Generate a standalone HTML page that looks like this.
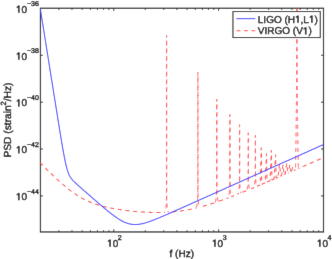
<!DOCTYPE html>
<html><head><meta charset="utf-8"><style>
html,body{margin:0;padding:0;background:#fff;}
body{width:332px;height:259px;overflow:hidden;}
svg{display:block;}
text{font-family:"Liberation Sans",sans-serif;fill:#000;stroke:#000;stroke-width:0.35px;text-rendering:geometricPrecision;}
.one{fill:#000;stroke:#000;stroke-width:102px;}
.t{font-size:10px;}
.e{font-size:7px;}
.h1{fill-opacity:0;stroke-opacity:0;}
</style></head><body>
<svg width="332" height="259" viewBox="0 0 332 259"><g filter="url(#bl)"><rect width="332" height="259" fill="#fff"/>
<defs><filter id="bl" x="0" y="0" width="100%" height="100%" filterUnits="userSpaceOnUse"><feConvolveMatrix order="3" kernelMatrix="0.00524 0.06192 0.00524 0.06192 0.73137 0.06192 0.00524 0.06192 0.00524" edgeMode="duplicate" preserveAlpha="false"/></filter><path id="g1" d="M515,0L515,1237L197,1010L197,1180L530,1409L696,1409L696,0Z"/><clipPath id="c"><rect x="39.9" y="7.7" width="284.2" height="224.8"/></clipPath></defs>
<path d="M58.87,231.95L58.87,230.25M58.87,8.25L58.87,9.95M71.98,231.95L71.98,230.25M71.98,8.25L71.98,9.95M82.14,231.95L82.14,230.25M82.14,8.25L82.14,9.95M90.45,231.95L90.45,230.25M90.45,8.25L90.45,9.95M97.47,231.95L97.47,230.25M97.47,8.25L97.47,9.95M103.55,231.95L103.55,230.25M103.55,8.25L103.55,9.95M108.92,231.95L108.92,230.25M108.92,8.25L108.92,9.95M113.72,231.95L113.72,229.25M113.72,8.25L113.72,10.95M145.29,231.95L145.29,230.25M145.29,8.25L145.29,9.95M163.76,231.95L163.76,230.25M163.76,8.25L163.76,9.95M176.87,231.95L176.87,230.25M176.87,8.25L176.87,9.95M187.03,231.95L187.03,230.25M187.03,8.25L187.03,9.95M195.34,231.95L195.34,230.25M195.34,8.25L195.34,9.95M202.36,231.95L202.36,230.25M202.36,8.25L202.36,9.95M208.44,231.95L208.44,230.25M208.44,8.25L208.44,9.95M213.81,231.95L213.81,230.25M213.81,8.25L213.81,9.95M218.61,231.95L218.61,229.25M218.61,8.25L218.61,10.95M250.18,231.95L250.18,230.25M250.18,8.25L250.18,9.95M268.65,231.95L268.65,230.25M268.65,8.25L268.65,9.95M281.76,231.95L281.76,230.25M281.76,8.25L281.76,9.95M291.92,231.95L291.92,230.25M291.92,8.25L291.92,9.95M300.23,231.95L300.23,230.25M300.23,8.25L300.23,9.95M307.25,231.95L307.25,230.25M307.25,8.25L307.25,9.95M313.33,231.95L313.33,230.25M313.33,8.25L313.33,9.95M318.70,231.95L318.70,230.25M318.70,8.25L318.70,9.95M40.40,55.28L42.90,55.28M323.50,55.28L321.00,55.28M40.40,102.15L42.90,102.15M323.50,102.15L321.00,102.15M40.40,149.03L42.90,149.03M323.50,149.03L321.00,149.03M40.40,195.91L42.90,195.91M323.50,195.91L321.00,195.91" stroke="#000" stroke-width="0.8" fill="none"/>
<rect x="40.45" y="8.25" width="283.05" height="223.7" fill="none" stroke="#1a1a1a" stroke-width="1.2"/>
<g clip-path="url(#c)">
<g fill="none" stroke="#ff4040" stroke-width="1.05" stroke-dasharray="4 3.75" stroke-linejoin="round"><path d="M40.40,163.10 L40.65,163.35 L40.90,163.60 L41.15,163.85 L41.40,164.10 L41.65,164.35 L41.90,164.60 L42.15,164.85 L42.40,165.10 L42.65,165.34 L42.90,165.59 L43.15,165.84 L43.40,166.09 L43.65,166.34 L43.90,166.58 L44.15,166.83 L44.40,167.08 L44.65,167.32 L44.90,167.57 L45.15,167.82 L45.40,168.06 L45.65,168.31 L45.90,168.55 L46.15,168.80 L46.40,169.04 L46.65,169.29 L46.90,169.53 L47.15,169.78 L47.40,170.02 L47.65,170.27 L47.90,170.51 L48.15,170.75 L48.40,170.99 L48.65,171.24 L48.90,171.48 L49.15,171.72 L49.40,171.96 L49.65,172.21 L49.90,172.45 L50.15,172.69 L50.40,172.93 L50.65,173.17 L50.90,173.41 L51.15,173.65 L51.40,173.89 L51.65,174.13 L51.90,174.36 L52.15,174.60 L52.40,174.84 L52.65,175.08 L52.90,175.31 L53.15,175.55 L53.40,175.79 L53.65,176.02 L53.90,176.26 L54.15,176.49 L54.40,176.73 L54.65,176.96 L54.90,177.20 L55.15,177.43 L55.40,177.66 L55.65,177.89 L55.90,178.13 L56.15,178.36 L56.40,178.59 L56.65,178.82 L56.90,179.05 L57.15,179.28 L57.40,179.51 L57.65,179.74 L57.90,179.96 L58.15,180.19 L58.40,180.42 L58.65,180.64 L58.90,180.87 L59.15,181.10 L59.40,181.32 L59.65,181.54 L59.90,181.77 L60.15,181.99 L60.40,182.21 L60.65,182.43 L60.90,182.65 L61.15,182.88 L61.40,183.09 L61.65,183.31 L61.90,183.53 L62.15,183.75 L62.40,183.97 L62.65,184.18 L62.90,184.40 L63.15,184.61 L63.40,184.83 L63.65,185.04 L63.90,185.25 L64.15,185.47 L64.40,185.68 L64.65,185.89 L64.90,186.10 L65.15,186.31 L65.40,186.51 L65.65,186.72 L65.90,186.93 L66.15,187.13 L66.40,187.34 L66.65,187.54 L66.90,187.75 L67.15,187.95 L67.40,188.15 L67.65,188.35 L67.90,188.55 L68.15,188.75 L68.40,188.95 L68.65,189.14 L68.90,189.34 L69.15,189.54 L69.40,189.73 L69.65,189.92 L69.90,190.12 L70.15,190.31 L70.40,190.50 L70.65,190.69 L70.90,190.88 L71.15,191.06 L71.40,191.25 L71.65,191.43 L71.90,191.62 L72.15,191.80 L72.40,191.99 L72.65,192.17 L72.90,192.35 L73.15,192.53 L73.40,192.70 L73.65,192.88 L73.90,193.06 L74.15,193.23 L74.40,193.41 L74.65,193.58 L74.90,193.75 L75.15,193.92 L75.40,194.09 L75.65,194.26 L75.90,194.43 L76.15,194.59 L76.40,194.76 L76.65,194.92 L76.90,195.09 L77.15,195.25 L77.40,195.41 L77.65,195.57 L77.90,195.73 L78.15,195.88 L78.40,196.04 L78.65,196.20 L78.90,196.35 L79.15,196.50 L79.40,196.65 L79.65,196.80 L79.90,196.95 L80.15,197.10 L80.40,197.25 L80.65,197.39 L80.90,197.54 L81.15,197.68 L81.40,197.82 L81.65,197.97 L81.90,198.11 L82.15,198.25 L82.40,198.38 L82.65,198.52 L82.90,198.66 L83.15,198.79 L83.40,198.92 L83.65,199.05 L83.90,199.19 L84.15,199.32 L84.40,199.44 L84.65,199.57 L84.90,199.70 L85.15,199.82 L85.40,199.95 L85.65,200.07 L85.90,200.19 L86.15,200.31 L86.40,200.43 L86.65,200.55 L86.90,200.67 L87.15,200.79 L87.40,200.90 L87.65,201.02 L87.90,201.13 L88.15,201.24 L88.40,201.35 L88.65,201.46 L88.90,201.57 L89.15,201.68 L89.40,201.79 L89.65,201.89 L89.90,202.00 L90.15,202.10 L90.40,202.21 L90.65,202.31 L90.90,202.41 L91.15,202.51 L91.40,202.61 L91.65,202.71 L91.90,202.80 L92.15,202.90 L92.40,203.00 L92.65,203.09 L92.90,203.18 L93.15,203.28 L93.40,203.37 L93.65,203.46 L93.90,203.55 L94.15,203.64 L94.40,203.73 L94.65,203.82 L94.90,203.90 L95.15,203.99 L95.40,204.07 L95.65,204.16 L95.90,204.24 L96.15,204.32 L96.40,204.40 L96.65,204.49 L96.90,204.57 L97.15,204.64 L97.40,204.72 L97.65,204.80 L97.90,204.88 L98.15,204.95 L98.40,205.03 L98.65,205.11 L98.90,205.18 L99.15,205.25 L99.40,205.33 L99.65,205.40 L99.90,205.47 L100.15,205.54 L100.40,205.61 L100.65,205.68 L100.90,205.75 L101.15,205.82 L101.40,205.88 L101.65,205.95 L101.90,206.02 L102.15,206.08 L102.40,206.15 L102.65,206.21 L102.90,206.28 L103.15,206.34 L103.40,206.40 L103.65,206.47 L103.90,206.53 L104.15,206.59 L104.40,206.65 L104.65,206.71 L104.90,206.77 L105.15,206.83 L105.40,206.89 L105.65,206.94 L105.90,207.00 L106.15,207.06 L106.40,207.12 L106.65,207.17 L106.90,207.23 L107.15,207.28 L107.40,207.34 L107.65,207.39 L107.90,207.44 L108.15,207.50 L108.40,207.55 L108.65,207.60 L108.90,207.66 L109.15,207.71 L109.40,207.76 L109.65,207.81 L109.90,207.86 L110.15,207.91 L110.40,207.96 L110.65,208.01 L110.90,208.06 L111.15,208.10 L111.40,208.15 L111.65,208.20 L111.90,208.25 L112.15,208.29 L112.40,208.34 L112.65,208.39 L112.90,208.43 L113.15,208.48 L113.40,208.52 L113.65,208.57 L113.90,208.61 L114.15,208.66 L114.40,208.70 L114.65,208.74 L114.90,208.79 L115.15,208.83 L115.40,208.87 L115.65,208.91 L115.90,208.95 L116.15,209.00 L116.40,209.04 L116.65,209.08 L116.90,209.12 L117.15,209.16 L117.40,209.20 L117.65,209.24 L117.90,209.28 L118.15,209.32 L118.40,209.36 L118.65,209.39 L118.90,209.43 L119.15,209.47 L119.40,209.51 L119.65,209.55 L119.90,209.58 L120.15,209.62 L120.40,209.66 L120.65,209.69 L120.90,209.73 L121.15,209.76 L121.40,209.80 L121.65,209.84 L121.90,209.87 L122.15,209.91 L122.40,209.94 L122.65,209.97 L122.90,210.01 L123.15,210.04 L123.40,210.08 L123.65,210.11 L123.90,210.14 L124.15,210.18 L124.40,210.21 L124.65,210.24 L124.90,210.27 L125.15,210.31 L125.40,210.34 L125.65,210.37 L125.90,210.40 L126.15,210.43 L126.40,210.46 L126.65,210.49 L126.90,210.52 L127.15,210.55 L127.40,210.58 L127.65,210.61 L127.90,210.64 L128.15,210.67 L128.40,210.70 L128.65,210.73 L128.90,210.76 L129.15,210.79 L129.40,210.81 L129.65,210.84 L129.90,210.87 L130.15,210.90 L130.40,210.92 L130.65,210.95 L130.90,210.98 L131.15,211.00 L131.40,211.03 L131.65,211.06 L131.90,211.08 L132.15,211.11 L132.40,211.13 L132.65,211.16 L132.90,211.18 L133.15,211.21 L133.40,211.23 L133.65,211.26 L133.90,211.28 L134.15,211.31 L134.40,211.33 L134.65,211.35 L134.90,211.38 L135.15,211.40 L135.40,211.42 L135.65,211.45 L135.90,211.47 L136.15,211.49 L136.40,211.51 L136.65,211.54 L136.90,211.56 L137.15,211.58 L137.40,211.60 L137.65,211.62 L137.90,211.64 L138.15,211.66 L138.40,211.68 L138.65,211.70 L138.90,211.72 L139.15,211.74 L139.40,211.76 L139.65,211.78 L139.90,211.80 L140.15,211.82 L140.40,211.84 L140.65,211.85 L140.90,211.87 L141.15,211.89 L141.40,211.91 L141.65,211.92 L141.90,211.94 L142.15,211.96 L142.40,211.97 L142.65,211.99 L142.90,212.01 L143.15,212.02 L143.40,212.04 L143.65,212.05 L143.90,212.07 L144.15,212.08 L144.40,212.10 L144.65,212.11 L144.90,212.13 L145.15,212.14 L145.40,212.15 L145.65,212.17 L145.90,212.18 L146.15,212.19 L146.40,212.21 L146.65,212.22 L146.90,212.23 L147.15,212.24 L147.40,212.26 L147.65,212.27 L147.90,212.28 L148.15,212.29 L148.40,212.30 L148.65,212.31 L148.90,212.32 L149.15,212.33 L149.40,212.34 L149.65,212.35 L149.90,212.36 L150.15,212.37 L150.40,212.37 L150.65,212.38 L150.90,212.39 L151.15,212.40 L151.40,212.41 L151.65,212.41 L151.90,212.42 L152.15,212.43 L152.40,212.43 L152.65,212.44 L152.90,212.44 L153.15,212.45 L153.40,212.45 L153.65,212.46 L153.90,212.46 L154.15,212.47 L154.40,212.47 L154.65,212.48 L154.90,212.48 L155.15,212.48 L155.40,212.48 L155.65,212.49 L155.90,212.49 L156.15,212.49 L156.40,212.49 L156.65,212.49 L156.90,212.49 L157.15,212.50 L157.40,212.50 L157.65,212.50 L157.90,212.50 L158.15,212.49 L158.40,212.49 L158.65,212.49 L158.90,212.49 L159.15,212.49 L159.40,212.49 L159.65,212.48 L159.90,212.48 L160.15,212.48 L160.40,212.47 L160.65,212.47 L160.90,212.47 L161.15,212.46 L161.40,212.46 L161.65,212.45 L161.90,212.45 L162.15,212.44 L162.40,212.43 L162.65,212.43 L162.90,212.42 L163.15,212.41 L163.40,212.41 L163.65,212.40 L163.90,212.39 L164.15,212.38 L164.40,212.37 L164.65,212.36 L164.80,212.36" stroke-dashoffset="0.71"/><path d="M168.40,212.18 L168.65,212.16 L168.90,212.15 L169.15,212.13 L169.40,212.11 L169.65,212.10 L169.90,212.08 L170.15,212.06 L170.40,212.05 L170.65,212.03 L170.90,212.01 L171.15,211.99 L171.40,211.97 L171.65,211.95 L171.90,211.93 L172.15,211.91 L172.40,211.89 L172.65,211.87 L172.90,211.84 L173.15,211.82 L173.40,211.80 L173.65,211.78 L173.90,211.75 L174.15,211.73 L174.40,211.71 L174.65,211.68 L174.90,211.66 L175.15,211.63 L175.40,211.60 L175.65,211.58 L175.90,211.55 L176.15,211.52 L176.40,211.50 L176.65,211.47 L176.90,211.44 L177.15,211.41 L177.40,211.38 L177.65,211.35 L177.90,211.32 L178.15,211.29 L178.40,211.26 L178.65,211.23 L178.90,211.20 L179.15,211.17 L179.40,211.14 L179.65,211.10 L179.90,211.07 L180.15,211.04 L180.40,211.00 L180.65,210.97 L180.90,210.93 L181.15,210.90 L181.40,210.86 L181.65,210.83 L181.90,210.79 L182.15,210.75 L182.40,210.72 L182.65,210.68 L182.90,210.64 L183.15,210.60 L183.40,210.56 L183.65,210.52 L183.90,210.48 L184.15,210.44 L184.40,210.40 L184.65,210.36 L184.90,210.32 L185.15,210.28 L185.40,210.24 L185.65,210.19 L185.90,210.15 L186.15,210.11 L186.40,210.06 L186.65,210.02 L186.90,209.97 L187.15,209.93 L187.40,209.88 L187.65,209.84 L187.90,209.79 L188.15,209.74 L188.40,209.70 L188.65,209.65 L188.90,209.60 L189.15,209.55 L189.40,209.50 L189.65,209.45 L189.90,209.41 L190.15,209.36 L190.40,209.30 L190.65,209.25 L190.90,209.20 L191.15,209.15 L191.40,209.10 L191.65,209.05 L191.90,208.99 L192.15,208.94 L192.40,208.89 L192.65,208.83 L192.90,208.78 L193.15,208.72 L193.40,208.67 L193.65,208.61 L193.90,208.56 L194.15,208.50 L194.40,208.44 L194.65,208.39 L194.90,208.33 L195.15,208.27 L195.40,208.21 L195.65,208.15 L195.90,208.09 L196.15,208.04 L196.30,208.00" stroke-dashoffset="3.74"/><path d="M199.50,207.20 L199.75,207.14 L200.00,207.07 L200.25,207.01 L200.50,206.94 L200.75,206.88 L201.00,206.81 L201.25,206.74 L201.50,206.68 L201.75,206.61 L202.00,206.54 L202.25,206.47 L202.50,206.40 L202.75,206.33 L203.00,206.26 L203.25,206.20 L203.50,206.13 L203.75,206.06 L204.00,205.98 L204.25,205.91 L204.50,205.84 L204.75,205.77 L205.00,205.70 L205.25,205.63 L205.50,205.55 L205.75,205.48 L206.00,205.41 L206.25,205.33 L206.50,205.26 L206.75,205.19 L207.00,205.11 L207.25,205.04 L207.50,204.96 L207.75,204.89 L208.00,204.81 L208.25,204.74 L208.50,204.66 L208.75,204.58 L209.00,204.51 L209.25,204.43 L209.50,204.35 L209.75,204.27 L210.00,204.20 L210.25,204.12 L210.50,204.04 L210.75,203.96 L211.00,203.88 L211.25,203.80 L211.50,203.72 L211.75,203.64 L212.00,203.56 L212.25,203.48 L212.50,203.40 L212.75,203.32 L213.00,203.24 L213.25,203.16 L213.50,203.08 L213.75,202.99 L214.00,202.91 L214.25,202.83 L214.50,202.75 L214.75,202.66 L215.00,202.58 L215.25,202.50 L215.30,202.48" stroke-dashoffset="4.23"/><path d="M218.30,201.46 L218.55,201.37 L218.80,201.28 L219.05,201.20 L219.30,201.11 L219.55,201.02 L219.80,200.94 L220.05,200.85 L220.30,200.76 L220.55,200.67 L220.80,200.58 L221.05,200.49 L221.30,200.40 L221.55,200.32 L221.80,200.23 L222.05,200.14 L222.30,200.05 L222.55,199.96 L222.80,199.87 L223.05,199.78 L223.30,199.69 L223.55,199.60 L223.80,199.50 L224.05,199.41 L224.30,199.32 L224.55,199.23 L224.80,199.14 L225.05,199.05 L225.30,198.95 L225.55,198.86 L225.80,198.77 L226.05,198.68 L226.30,198.59 L226.55,198.49 L226.80,198.40 L227.05,198.31 L227.30,198.21 L227.55,198.12 L227.80,198.03 L228.05,197.93 L228.30,197.84 L228.50,197.76" stroke-dashoffset="6.80"/><path d="M231.30,196.70 L231.55,196.60 L231.80,196.51 L232.05,196.41 L232.30,196.31 L232.55,196.22 L232.80,196.12 L233.05,196.02 L233.30,195.93 L233.55,195.83 L233.80,195.73 L234.05,195.63 L234.30,195.54 L234.55,195.44 L234.80,195.34 L235.05,195.24 L235.30,195.15 L235.55,195.05 L235.80,194.95 L236.05,194.85 L236.30,194.75 L236.55,194.65 L236.80,194.56 L237.05,194.46 L237.30,194.36 L237.55,194.26 L237.80,194.16 L238.05,194.06 L238.30,193.96" stroke-dashoffset="1.09"/><path d="M240.90,192.92 L241.15,192.82 L241.40,192.72 L241.65,192.62 L241.90,192.52 L242.15,192.42 L242.40,192.32 L242.65,192.22 L242.90,192.12 L243.15,192.01 L243.40,191.91 L243.65,191.81 L243.90,191.71 L244.15,191.61 L244.40,191.51 L244.65,191.40 L244.90,191.30 L245.15,191.20 L245.40,191.10 L245.65,191.00 L245.90,190.89 L246.15,190.79 L246.40,190.69 L246.65,190.59 L246.90,190.49 L247.00,190.44" stroke-dashoffset="6.13"/><path d="M249.60,189.37 L249.85,189.27 L250.10,189.17 L250.35,189.06 L250.60,188.96 L250.85,188.86 L251.10,188.75 L251.35,188.65 L251.60,188.55 L251.85,188.44 L252.10,188.34 L252.35,188.23 L252.60,188.13 L252.85,188.03 L253.10,187.92 L253.35,187.82 L253.60,187.71 L253.85,187.61 L254.10,187.50" stroke-dashoffset="6.13"/><path d="M256.70,186.42 L256.95,186.31 L257.20,186.21 L257.45,186.10 L257.70,186.00 L257.95,185.89 L258.20,185.78 L258.45,185.68 L258.70,185.57 L258.95,185.47 L259.20,185.36 L259.45,185.26 L259.70,185.15 L259.95,185.05 L260.10,184.98" stroke-dashoffset="7.42"/><path d="M261.80,184.26 L262.05,184.16 L262.30,184.05 L262.55,183.95 L262.80,183.84 L263.05,183.73 L263.30,183.63 L263.55,183.52 L263.80,183.42 L264.05,183.31 L264.30,183.20 L264.55,183.10 L264.80,182.99 L265.05,182.88 L265.20,182.82"/><path d="M267.00,182.05 L267.25,181.95 L267.50,181.84 L267.75,181.73 L268.00,181.63 L268.25,181.52 L268.50,181.41 L268.75,181.31 L269.00,181.20 L269.25,181.09 L269.50,180.99 L269.75,180.88 L270.00,180.77"/><path d="M271.90,179.96 L272.15,179.85 L272.40,179.74 L272.65,179.64 L272.90,179.53 L273.15,179.42 L273.40,179.31 L273.65,179.21 L273.90,179.10 L274.10,179.01"/><path d="M276.10,178.15 L276.35,178.05 L276.60,177.94 L276.85,177.83 L277.10,177.72 L277.35,177.62 L277.60,177.51 L277.85,177.40 L278.00,177.34"/><path d="M280.70,176.17 L280.95,176.06 L281.20,175.95 L281.45,175.85 L281.50,175.83"/><path d="M284.20,174.66 L284.45,174.55 L284.70,174.44 L284.95,174.33 L285.20,174.22"/><path d="M287.90,173.05 L288.15,172.95 L288.30,172.88"/><path d="M291.00,171.71 L291.25,171.60 L291.40,171.54"/><path d="M293.80,170.49 L294.05,170.38 L294.30,170.28 L294.55,170.17 L294.80,170.06 L295.05,169.95 L295.30,169.84 L295.45,169.78"/><path d="M298.35,168.51 L298.60,168.40 L298.85,168.30 L299.10,168.19 L299.35,168.08 L299.60,167.97 L299.85,167.86 L300.10,167.75 L300.35,167.64 L300.60,167.53 L300.85,167.42 L301.10,167.32 L301.35,167.21 L301.60,167.10 L301.85,166.99 L302.10,166.88 L302.35,166.77 L302.60,166.66 L302.85,166.55 L303.10,166.44 L303.35,166.34 L303.60,166.23 L303.85,166.12 L304.10,166.01 L304.35,165.90 L304.60,165.79 L304.85,165.68 L305.10,165.57 L305.35,165.46 L305.60,165.35 L305.85,165.25 L306.10,165.14 L306.35,165.03 L306.60,164.92 L306.85,164.81 L307.10,164.70 L307.35,164.59 L307.60,164.48 L307.85,164.37 L308.10,164.26 L308.35,164.15 L308.60,164.05 L308.85,163.94 L309.10,163.83 L309.35,163.72 L309.60,163.61 L309.85,163.50 L310.10,163.39 L310.35,163.28 L310.60,163.17 L310.85,163.06 L311.10,162.95 L311.35,162.85 L311.60,162.74 L311.85,162.63 L312.10,162.52 L312.35,162.41 L312.60,162.30 L312.85,162.19 L313.10,162.08 L313.35,161.97 L313.60,161.86 L313.85,161.75 L314.10,161.64 L314.35,161.53 L314.60,161.43 L314.85,161.32 L315.10,161.21 L315.35,161.10 L315.60,160.99 L315.85,160.88 L316.10,160.77 L316.35,160.66 L316.60,160.55 L316.85,160.44 L317.10,160.33 L317.35,160.22 L317.60,160.11 L317.85,160.01 L318.10,159.90 L318.35,159.79 L318.60,159.68 L318.85,159.57 L319.10,159.46 L319.35,159.35 L319.60,159.24 L319.85,159.13 L320.10,159.02 L320.35,158.91 L320.60,158.80 L320.85,158.69 L321.10,158.58 L321.35,158.48 L321.60,158.37 L321.85,158.26 L322.10,158.15 L322.35,158.04 L322.60,157.93 L322.85,157.82 L323.10,157.71 L323.35,157.60 L323.50,157.54" stroke-dashoffset="2.90"/><g stroke-width="0.95"><path d="M164.80,212.36 L164.97,211.78 L165.12,211.28 L165.26,210.78 L165.39,210.28 L165.50,209.78 L165.61,209.28 L165.70,208.78 L165.78,208.28 L165.86,207.78 L165.93,207.28 L165.99,206.78 L166.05,206.28 L166.10,205.78 L166.15,205.28 L166.19,204.78 L166.23,204.28 L166.27,203.78 L166.30,203.28 L166.33,202.78 L166.35,202.28 L166.38,201.78 L166.40,201.28 L166.42,200.78 L166.43,200.28 L166.45,199.78 L166.46,199.28 L166.48,198.78 L166.48,198.28 L166.48,197.78 L166.48,197.28 L166.48,196.78 L166.48,196.28 L166.48,195.78 L166.48,195.28 L166.48,194.78 L166.48,194.28 L166.48,193.78 L166.48,193.28 L166.48,192.78 L166.48,192.28 L166.48,191.78 L166.48,191.28 L166.48,190.78 L166.48,190.28 L166.48,189.78 L166.48,189.28 L166.48,188.78 L166.48,188.28 L166.48,187.78 L166.48,187.28 L166.48,186.78 L166.48,186.28 L166.48,185.78 L166.48,185.28 L166.48,184.78 L166.48,184.28 L166.48,183.78 L166.48,183.28 L166.48,182.78 L166.48,182.28 L166.48,181.78 L166.48,181.28 L166.48,180.78 L166.48,180.28 L166.48,179.78 L166.48,179.28 L166.48,178.78 L166.48,178.28 L166.48,177.78 L166.48,177.28 L166.48,176.78 L166.48,176.28 L166.48,175.78 L166.48,175.28 L166.48,174.78 L166.48,174.28 L166.48,173.78 L166.48,173.28 L166.48,172.78 L166.48,172.28 L166.48,171.78 L166.48,171.28 L166.48,170.78 L166.48,170.28 L166.48,169.78 L166.48,169.28 L166.48,168.78 L166.48,168.28 L166.48,167.78 L166.48,167.28 L166.48,166.78 L166.48,166.28 L166.48,165.78 L166.48,165.28 L166.48,164.78 L166.48,164.28 L166.48,163.78 L166.48,163.28 L166.48,162.78 L166.48,162.28 L166.48,161.78 L166.48,161.28 L166.48,160.78 L166.48,160.28 L166.48,159.78 L166.48,159.28 L166.48,158.78 L166.48,158.28 L166.48,157.78 L166.48,157.28 L166.48,156.78 L166.48,156.28 L166.48,155.78 L166.48,155.28 L166.48,154.78 L166.48,154.28 L166.48,153.78 L166.48,153.28 L166.48,152.78 L166.48,152.28 L166.48,151.78 L166.48,151.28 L166.48,150.78 L166.48,150.28 L166.48,149.78 L166.48,149.28 L166.48,148.78 L166.48,148.28 L166.48,147.78 L166.48,147.28 L166.48,146.78 L166.48,146.28 L166.48,145.78 L166.48,145.28 L166.48,144.78 L166.48,144.28 L166.48,143.78 L166.48,143.28 L166.48,142.78 L166.48,142.28 L166.48,141.78 L166.48,141.28 L166.48,140.78 L166.48,140.28 L166.48,139.78 L166.48,139.28 L166.48,138.78 L166.48,138.28 L166.48,137.78 L166.48,137.28 L166.48,136.78 L166.48,136.28 L166.48,135.78 L166.48,135.28 L166.48,134.78 L166.48,134.28 L166.48,133.78 L166.48,133.28 L166.48,132.78 L166.48,132.28 L166.48,131.78 L166.48,131.28 L166.48,130.78 L166.48,130.28 L166.48,129.78 L166.48,129.28 L166.48,128.78 L166.48,128.28 L166.48,127.78 L166.48,127.28 L166.48,126.78 L166.48,126.28 L166.48,125.78 L166.48,125.28 L166.48,124.78 L166.48,124.28 L166.48,123.78 L166.48,123.28 L166.48,122.78 L166.48,122.28 L166.48,121.78 L166.48,121.28 L166.48,120.78 L166.48,120.28 L166.48,119.78 L166.48,119.28 L166.48,118.78 L166.48,118.28 L166.48,117.78 L166.48,117.28 L166.48,116.78 L166.48,116.28 L166.48,115.78 L166.48,115.28 L166.48,114.78 L166.48,114.28 L166.48,113.78 L166.48,113.28 L166.48,112.78 L166.48,112.28 L166.48,111.78 L166.48,111.28 L166.48,110.78 L166.48,110.28 L166.48,109.78 L166.48,109.28 L166.48,108.78 L166.48,108.28 L166.48,107.78 L166.48,107.28 L166.48,106.78 L166.48,106.28 L166.48,105.78 L166.48,105.28 L166.48,104.78 L166.48,104.28 L166.48,103.78 L166.48,103.28 L166.48,102.78 L166.48,102.28 L166.48,101.78 L166.48,101.28 L166.48,100.78 L166.48,100.28 L166.48,99.78 L166.48,99.28 L166.48,98.78 L166.48,98.28 L166.48,97.78 L166.48,97.28 L166.48,96.78 L166.48,96.28 L166.48,95.78 L166.48,95.28 L166.48,94.78 L166.48,94.28 L166.48,93.78 L166.48,93.28 L166.48,92.78 L166.48,92.28 L166.48,91.78 L166.48,91.28 L166.48,90.78 L166.48,90.28 L166.48,89.78 L166.48,89.28 L166.48,88.78 L166.48,88.28 L166.48,87.78 L166.48,87.28 L166.48,86.78 L166.48,86.28 L166.48,85.78 L166.48,85.28 L166.48,84.78 L166.48,84.28 L166.48,83.78 L166.48,83.28 L166.48,82.78 L166.48,82.28 L166.48,81.78 L166.48,81.28 L166.48,80.78 L166.48,80.28 L166.48,79.78 L166.48,79.28 L166.48,78.78 L166.48,78.28 L166.48,77.78 L166.48,77.28 L166.48,76.78 L166.48,76.28 L166.48,75.78 L166.48,75.28 L166.48,74.78 L166.48,74.28 L166.48,73.78 L166.48,73.28 L166.48,72.78 L166.48,72.28 L166.48,71.78 L166.48,71.28 L166.48,70.78 L166.48,70.28 L166.48,69.78 L166.48,69.28 L166.48,68.78 L166.48,68.28 L166.48,67.78 L166.48,67.28 L166.48,66.78 L166.48,66.28 L166.48,65.78 L166.48,65.28 L166.48,64.78 L166.48,64.28 L166.48,63.78 L166.48,63.28 L166.48,62.78 L166.48,62.28 L166.48,61.78 L166.48,61.28 L166.48,60.78 L166.48,60.28 L166.48,59.78 L166.48,59.28 L166.48,58.78 L166.48,58.28 L166.48,57.78 L166.48,57.28 L166.48,56.78 L166.48,56.28 L166.48,55.78 L166.48,55.28 L166.48,54.78 L166.48,54.28 L166.48,53.78 L166.48,53.28 L166.48,52.78 L166.48,52.28 L166.48,51.78 L166.48,51.28 L166.48,50.78 L166.48,50.28 L166.48,49.78 L166.48,49.28 L166.48,48.78 L166.48,48.28 L166.48,47.78 L166.48,47.28 L166.48,46.78 L166.48,46.28 L166.48,45.78 L166.48,45.28 L166.48,44.78 L166.48,44.28 L166.48,43.78 L166.48,43.28 L166.48,42.78 L166.48,42.28 L166.48,41.78 L166.48,41.28 L166.48,40.78 L166.48,40.28 L166.48,39.78 L166.48,39.28 L166.48,38.78 L166.48,38.28 L166.48,37.78 L166.48,37.28 L166.48,36.78 L166.48,36.28 L166.48,35.78 L166.48,35.40 L166.72,35.78 L166.72,36.28 L166.72,36.78 L166.72,37.28 L166.72,37.78 L166.72,38.28 L166.72,38.78 L166.72,39.28 L166.72,39.78 L166.72,40.28 L166.72,40.78 L166.72,41.28 L166.72,41.78 L166.72,42.28 L166.72,42.78 L166.72,43.28 L166.72,43.78 L166.72,44.28 L166.72,44.78 L166.72,45.28 L166.72,45.78 L166.72,46.28 L166.72,46.78 L166.72,47.28 L166.72,47.78 L166.72,48.28 L166.72,48.78 L166.72,49.28 L166.72,49.78 L166.72,50.28 L166.72,50.78 L166.72,51.28 L166.72,51.78 L166.72,52.28 L166.72,52.78 L166.72,53.28 L166.72,53.78 L166.72,54.28 L166.72,54.78 L166.72,55.28 L166.72,55.78 L166.72,56.28 L166.72,56.78 L166.72,57.28 L166.72,57.78 L166.72,58.28 L166.72,58.78 L166.72,59.28 L166.72,59.78 L166.72,60.28 L166.72,60.78 L166.72,61.28 L166.72,61.78 L166.72,62.28 L166.72,62.78 L166.72,63.28 L166.72,63.78 L166.72,64.28 L166.72,64.78 L166.72,65.28 L166.72,65.78 L166.72,66.28 L166.72,66.78 L166.72,67.28 L166.72,67.78 L166.72,68.28 L166.72,68.78 L166.72,69.28 L166.72,69.78 L166.72,70.28 L166.72,70.78 L166.72,71.28 L166.72,71.78 L166.72,72.28 L166.72,72.78 L166.72,73.28 L166.72,73.78 L166.72,74.28 L166.72,74.78 L166.72,75.28 L166.72,75.78 L166.72,76.28 L166.72,76.78 L166.72,77.28 L166.72,77.78 L166.72,78.28 L166.72,78.78 L166.72,79.28 L166.72,79.78 L166.72,80.28 L166.72,80.78 L166.72,81.28 L166.72,81.78 L166.72,82.28 L166.72,82.78 L166.72,83.28 L166.72,83.78 L166.72,84.28 L166.72,84.78 L166.72,85.28 L166.72,85.78 L166.72,86.28 L166.72,86.78 L166.72,87.28 L166.72,87.78 L166.72,88.28 L166.72,88.78 L166.72,89.28 L166.72,89.78 L166.72,90.28 L166.72,90.78 L166.72,91.28 L166.72,91.78 L166.72,92.28 L166.72,92.78 L166.72,93.28 L166.72,93.78 L166.72,94.28 L166.72,94.78 L166.72,95.28 L166.72,95.78 L166.72,96.28 L166.72,96.78 L166.72,97.28 L166.72,97.78 L166.72,98.28 L166.72,98.78 L166.72,99.28 L166.72,99.78 L166.72,100.28 L166.72,100.78 L166.72,101.28 L166.72,101.78 L166.72,102.28 L166.72,102.78 L166.72,103.28 L166.72,103.78 L166.72,104.28 L166.72,104.78 L166.72,105.28 L166.72,105.78 L166.72,106.28 L166.72,106.78 L166.72,107.28 L166.72,107.78 L166.72,108.28 L166.72,108.78 L166.72,109.28 L166.72,109.78 L166.72,110.28 L166.72,110.78 L166.72,111.28 L166.72,111.78 L166.72,112.28 L166.72,112.78 L166.72,113.28 L166.72,113.78 L166.72,114.28 L166.72,114.78 L166.72,115.28 L166.72,115.78 L166.72,116.28 L166.72,116.78 L166.72,117.28 L166.72,117.78 L166.72,118.28 L166.72,118.78 L166.72,119.28 L166.72,119.78 L166.72,120.28 L166.72,120.78 L166.72,121.28 L166.72,121.78 L166.72,122.28 L166.72,122.78 L166.72,123.28 L166.72,123.78 L166.72,124.28 L166.72,124.78 L166.72,125.28 L166.72,125.78 L166.72,126.28 L166.72,126.78 L166.72,127.28 L166.72,127.78 L166.72,128.28 L166.72,128.78 L166.72,129.28 L166.72,129.78 L166.72,130.28 L166.72,130.78 L166.72,131.28 L166.72,131.78 L166.72,132.28 L166.72,132.78 L166.72,133.28 L166.72,133.78 L166.72,134.28 L166.72,134.78 L166.72,135.28 L166.72,135.78 L166.72,136.28 L166.72,136.78 L166.72,137.28 L166.72,137.78 L166.72,138.28 L166.72,138.78 L166.72,139.28 L166.72,139.78 L166.72,140.28 L166.72,140.78 L166.72,141.28 L166.72,141.78 L166.72,142.28 L166.72,142.78 L166.72,143.28 L166.72,143.78 L166.72,144.28 L166.72,144.78 L166.72,145.28 L166.72,145.78 L166.72,146.28 L166.72,146.78 L166.72,147.28 L166.72,147.78 L166.72,148.28 L166.72,148.78 L166.72,149.28 L166.72,149.78 L166.72,150.28 L166.72,150.78 L166.72,151.28 L166.72,151.78 L166.72,152.28 L166.72,152.78 L166.72,153.28 L166.72,153.78 L166.72,154.28 L166.72,154.78 L166.72,155.28 L166.72,155.78 L166.72,156.28 L166.72,156.78 L166.72,157.28 L166.72,157.78 L166.72,158.28 L166.72,158.78 L166.72,159.28 L166.72,159.78 L166.72,160.28 L166.72,160.78 L166.72,161.28 L166.72,161.78 L166.72,162.28 L166.72,162.78 L166.72,163.28 L166.72,163.78 L166.72,164.28 L166.72,164.78 L166.72,165.28 L166.72,165.78 L166.72,166.28 L166.72,166.78 L166.72,167.28 L166.72,167.78 L166.72,168.28 L166.72,168.78 L166.72,169.28 L166.72,169.78 L166.72,170.28 L166.72,170.78 L166.72,171.28 L166.72,171.78 L166.72,172.28 L166.72,172.78 L166.72,173.28 L166.72,173.78 L166.72,174.28 L166.72,174.78 L166.72,175.28 L166.72,175.78 L166.72,176.28 L166.72,176.78 L166.72,177.28 L166.72,177.78 L166.72,178.28 L166.72,178.78 L166.72,179.28 L166.72,179.78 L166.72,180.28 L166.72,180.78 L166.72,181.28 L166.72,181.78 L166.72,182.28 L166.72,182.78 L166.72,183.28 L166.72,183.78 L166.72,184.28 L166.72,184.78 L166.72,185.28 L166.72,185.78 L166.72,186.28 L166.72,186.78 L166.72,187.28 L166.72,187.78 L166.72,188.28 L166.72,188.78 L166.72,189.28 L166.72,189.78 L166.72,190.28 L166.72,190.78 L166.72,191.28 L166.72,191.78 L166.72,192.28 L166.72,192.78 L166.72,193.28 L166.72,193.78 L166.72,194.28 L166.72,194.78 L166.72,195.28 L166.72,195.78 L166.72,196.28 L166.72,196.78 L166.72,197.28 L166.72,197.78 L166.72,198.28 L166.72,198.78 L166.74,199.28 L166.75,199.78 L166.77,200.28 L166.78,200.78 L166.80,201.28 L166.82,201.78 L166.85,202.28 L166.87,202.78 L166.90,203.28 L166.93,203.78 L166.97,204.28 L167.01,204.78 L167.05,205.28 L167.10,205.78 L167.15,206.28 L167.21,206.78 L167.27,207.28 L167.34,207.78 L167.42,208.28 L167.50,208.78 L167.59,209.28 L167.70,209.78 L167.81,210.28 L167.94,210.78 L168.08,211.28 L168.23,211.78 L168.40,212.18" stroke-dashoffset="3.64"/><path d="M196.30,208.00 L196.45,207.11 L196.59,206.61 L196.71,206.11 L196.82,205.61 L196.92,205.11 L197.02,204.61 L197.10,204.11 L197.18,203.61 L197.24,203.11 L197.31,202.61 L197.36,202.11 L197.41,201.61 L197.46,201.11 L197.50,200.61 L197.54,200.11 L197.57,199.61 L197.60,199.11 L197.63,198.61 L197.66,198.11 L197.68,197.61 L197.70,197.11 L197.72,196.61 L197.74,196.11 L197.75,195.61 L197.77,195.11 L197.78,194.61 L197.78,194.11 L197.78,193.61 L197.78,193.11 L197.78,192.61 L197.78,192.11 L197.78,191.61 L197.78,191.11 L197.78,190.61 L197.78,190.11 L197.78,189.61 L197.78,189.11 L197.78,188.61 L197.78,188.11 L197.78,187.61 L197.78,187.11 L197.78,186.61 L197.78,186.11 L197.78,185.61 L197.78,185.11 L197.78,184.61 L197.78,184.11 L197.78,183.61 L197.78,183.11 L197.78,182.61 L197.78,182.11 L197.78,181.61 L197.78,181.11 L197.78,180.61 L197.78,180.11 L197.78,179.61 L197.78,179.11 L197.78,178.61 L197.78,178.11 L197.78,177.61 L197.78,177.11 L197.78,176.61 L197.78,176.11 L197.78,175.61 L197.78,175.11 L197.78,174.61 L197.78,174.11 L197.78,173.61 L197.78,173.11 L197.78,172.61 L197.78,172.11 L197.78,171.61 L197.78,171.11 L197.78,170.61 L197.78,170.11 L197.78,169.61 L197.78,169.11 L197.78,168.61 L197.78,168.11 L197.78,167.61 L197.78,167.11 L197.78,166.61 L197.78,166.11 L197.78,165.61 L197.78,165.11 L197.78,164.61 L197.78,164.11 L197.78,163.61 L197.78,163.11 L197.78,162.61 L197.78,162.11 L197.78,161.61 L197.78,161.11 L197.78,160.61 L197.78,160.11 L197.78,159.61 L197.78,159.11 L197.78,158.61 L197.78,158.11 L197.78,157.61 L197.78,157.11 L197.78,156.61 L197.78,156.11 L197.78,155.61 L197.78,155.11 L197.78,154.61 L197.78,154.11 L197.78,153.61 L197.78,153.11 L197.78,152.61 L197.78,152.11 L197.78,151.61 L197.78,151.11 L197.78,150.61 L197.78,150.11 L197.78,149.61 L197.78,149.11 L197.78,148.61 L197.78,148.11 L197.78,147.61 L197.78,147.11 L197.78,146.61 L197.78,146.11 L197.78,145.61 L197.78,145.11 L197.78,144.61 L197.78,144.11 L197.78,143.61 L197.78,143.11 L197.78,142.61 L197.78,142.11 L197.78,141.61 L197.78,141.11 L197.78,140.61 L197.78,140.11 L197.78,139.61 L197.78,139.11 L197.78,138.61 L197.78,138.11 L197.78,137.61 L197.78,137.11 L197.78,136.61 L197.78,136.11 L197.78,135.61 L197.78,135.11 L197.78,134.61 L197.78,134.11 L197.78,133.61 L197.78,133.11 L197.78,132.61 L197.78,132.11 L197.78,131.61 L197.78,131.11 L197.78,130.61 L197.78,130.11 L197.78,129.61 L197.78,129.11 L197.78,128.61 L197.78,128.11 L197.78,127.61 L197.78,127.11 L197.78,126.61 L197.78,126.11 L197.78,125.61 L197.78,125.11 L197.78,124.61 L197.78,124.11 L197.78,123.61 L197.78,123.11 L197.78,122.61 L197.78,122.11 L197.78,121.61 L197.78,121.11 L197.78,120.61 L197.78,120.11 L197.78,119.61 L197.78,119.11 L197.78,118.61 L197.78,118.11 L197.78,117.61 L197.78,117.11 L197.78,116.61 L197.78,116.11 L197.78,115.61 L197.78,115.11 L197.78,114.61 L197.78,114.11 L197.78,113.61 L197.78,113.11 L197.78,112.61 L197.78,112.11 L197.78,111.61 L197.78,111.11 L197.78,110.61 L197.78,110.11 L197.78,109.61 L197.78,109.11 L197.78,108.61 L197.78,108.11 L197.78,107.61 L197.78,107.11 L197.78,106.61 L197.78,106.11 L197.78,105.61 L197.78,105.11 L197.78,104.61 L197.78,104.11 L197.78,103.61 L197.78,103.11 L197.78,102.61 L197.78,102.11 L197.78,101.61 L197.78,101.11 L197.78,100.61 L197.78,100.11 L197.78,99.61 L197.78,99.11 L197.78,98.61 L197.78,98.11 L197.78,97.61 L197.78,97.11 L197.78,96.61 L197.78,96.11 L197.78,95.61 L197.78,95.11 L197.78,94.61 L197.78,94.11 L197.78,93.61 L197.78,93.11 L197.78,92.61 L197.78,92.11 L197.78,91.61 L197.78,91.11 L197.78,90.61 L197.78,90.11 L197.78,89.61 L197.78,89.11 L197.78,88.61 L197.78,88.11 L197.78,87.61 L197.78,87.11 L197.78,86.61 L197.78,86.11 L197.78,85.61 L197.78,85.11 L197.78,84.61 L197.78,84.11 L197.78,83.61 L197.78,83.11 L197.78,82.61 L197.78,82.11 L197.78,81.61 L197.78,81.11 L197.78,80.61 L197.78,80.11 L197.78,79.61 L197.78,79.11 L197.78,78.61 L197.78,78.11 L197.78,77.61 L197.78,77.11 L197.78,76.61 L197.78,76.11 L197.78,75.61 L197.78,75.11 L197.78,74.61 L197.78,74.11 L197.78,73.61 L197.78,73.11 L197.78,72.61 L197.78,72.20 L198.02,72.61 L198.02,73.11 L198.02,73.61 L198.02,74.11 L198.02,74.61 L198.02,75.11 L198.02,75.61 L198.02,76.11 L198.02,76.61 L198.02,77.11 L198.02,77.61 L198.02,78.11 L198.02,78.61 L198.02,79.11 L198.02,79.61 L198.02,80.11 L198.02,80.61 L198.02,81.11 L198.02,81.61 L198.02,82.11 L198.02,82.61 L198.02,83.11 L198.02,83.61 L198.02,84.11 L198.02,84.61 L198.02,85.11 L198.02,85.61 L198.02,86.11 L198.02,86.61 L198.02,87.11 L198.02,87.61 L198.02,88.11 L198.02,88.61 L198.02,89.11 L198.02,89.61 L198.02,90.11 L198.02,90.61 L198.02,91.11 L198.02,91.61 L198.02,92.11 L198.02,92.61 L198.02,93.11 L198.02,93.61 L198.02,94.11 L198.02,94.61 L198.02,95.11 L198.02,95.61 L198.02,96.11 L198.02,96.61 L198.02,97.11 L198.02,97.61 L198.02,98.11 L198.02,98.61 L198.02,99.11 L198.02,99.61 L198.02,100.11 L198.02,100.61 L198.02,101.11 L198.02,101.61 L198.02,102.11 L198.02,102.61 L198.02,103.11 L198.02,103.61 L198.02,104.11 L198.02,104.61 L198.02,105.11 L198.02,105.61 L198.02,106.11 L198.02,106.61 L198.02,107.11 L198.02,107.61 L198.02,108.11 L198.02,108.61 L198.02,109.11 L198.02,109.61 L198.02,110.11 L198.02,110.61 L198.02,111.11 L198.02,111.61 L198.02,112.11 L198.02,112.61 L198.02,113.11 L198.02,113.61 L198.02,114.11 L198.02,114.61 L198.02,115.11 L198.02,115.61 L198.02,116.11 L198.02,116.61 L198.02,117.11 L198.02,117.61 L198.02,118.11 L198.02,118.61 L198.02,119.11 L198.02,119.61 L198.02,120.11 L198.02,120.61 L198.02,121.11 L198.02,121.61 L198.02,122.11 L198.02,122.61 L198.02,123.11 L198.02,123.61 L198.02,124.11 L198.02,124.61 L198.02,125.11 L198.02,125.61 L198.02,126.11 L198.02,126.61 L198.02,127.11 L198.02,127.61 L198.02,128.11 L198.02,128.61 L198.02,129.11 L198.02,129.61 L198.02,130.11 L198.02,130.61 L198.02,131.11 L198.02,131.61 L198.02,132.11 L198.02,132.61 L198.02,133.11 L198.02,133.61 L198.02,134.11 L198.02,134.61 L198.02,135.11 L198.02,135.61 L198.02,136.11 L198.02,136.61 L198.02,137.11 L198.02,137.61 L198.02,138.11 L198.02,138.61 L198.02,139.11 L198.02,139.61 L198.02,140.11 L198.02,140.61 L198.02,141.11 L198.02,141.61 L198.02,142.11 L198.02,142.61 L198.02,143.11 L198.02,143.61 L198.02,144.11 L198.02,144.61 L198.02,145.11 L198.02,145.61 L198.02,146.11 L198.02,146.61 L198.02,147.11 L198.02,147.61 L198.02,148.11 L198.02,148.61 L198.02,149.11 L198.02,149.61 L198.02,150.11 L198.02,150.61 L198.02,151.11 L198.02,151.61 L198.02,152.11 L198.02,152.61 L198.02,153.11 L198.02,153.61 L198.02,154.11 L198.02,154.61 L198.02,155.11 L198.02,155.61 L198.02,156.11 L198.02,156.61 L198.02,157.11 L198.02,157.61 L198.02,158.11 L198.02,158.61 L198.02,159.11 L198.02,159.61 L198.02,160.11 L198.02,160.61 L198.02,161.11 L198.02,161.61 L198.02,162.11 L198.02,162.61 L198.02,163.11 L198.02,163.61 L198.02,164.11 L198.02,164.61 L198.02,165.11 L198.02,165.61 L198.02,166.11 L198.02,166.61 L198.02,167.11 L198.02,167.61 L198.02,168.11 L198.02,168.61 L198.02,169.11 L198.02,169.61 L198.02,170.11 L198.02,170.61 L198.02,171.11 L198.02,171.61 L198.02,172.11 L198.02,172.61 L198.02,173.11 L198.02,173.61 L198.02,174.11 L198.02,174.61 L198.02,175.11 L198.02,175.61 L198.02,176.11 L198.02,176.61 L198.02,177.11 L198.02,177.61 L198.02,178.11 L198.02,178.61 L198.02,179.11 L198.02,179.61 L198.02,180.11 L198.02,180.61 L198.02,181.11 L198.02,181.61 L198.02,182.11 L198.02,182.61 L198.02,183.11 L198.02,183.61 L198.02,184.11 L198.02,184.61 L198.02,185.11 L198.02,185.61 L198.02,186.11 L198.02,186.61 L198.02,187.11 L198.02,187.61 L198.02,188.11 L198.02,188.61 L198.02,189.11 L198.02,189.61 L198.02,190.11 L198.02,190.61 L198.02,191.11 L198.02,191.61 L198.02,192.11 L198.02,192.61 L198.02,193.11 L198.02,193.61 L198.02,194.11 L198.02,194.61 L198.03,195.11 L198.05,195.61 L198.06,196.11 L198.08,196.61 L198.10,197.11 L198.12,197.61 L198.14,198.11 L198.17,198.61 L198.20,199.11 L198.23,199.61 L198.26,200.11 L198.30,200.61 L198.34,201.11 L198.39,201.61 L198.44,202.11 L198.49,202.61 L198.56,203.11 L198.62,203.61 L198.70,204.11 L198.78,204.61 L198.88,205.11 L198.98,205.61 L199.09,206.11 L199.21,206.61 L199.35,207.11 L199.50,207.20" stroke-dashoffset="7.09"/><path d="M215.30,202.48 L215.44,201.47 L215.57,200.97 L215.69,200.47 L215.79,199.97 L215.89,199.47 L215.97,198.97 L216.05,198.47 L216.12,197.97 L216.18,197.47 L216.24,196.97 L216.30,196.47 L216.34,195.97 L216.39,195.47 L216.43,194.97 L216.46,194.47 L216.49,193.97 L216.52,193.47 L216.55,192.97 L216.57,192.47 L216.59,191.97 L216.61,191.47 L216.63,190.97 L216.65,190.47 L216.66,189.97 L216.67,189.47 L216.68,188.97 L216.68,188.47 L216.68,187.97 L216.68,187.47 L216.68,186.97 L216.68,186.47 L216.68,185.97 L216.68,185.47 L216.68,184.97 L216.68,184.47 L216.68,183.97 L216.68,183.47 L216.68,182.97 L216.68,182.47 L216.68,181.97 L216.68,181.47 L216.68,180.97 L216.68,180.47 L216.68,179.97 L216.68,179.47 L216.68,178.97 L216.68,178.47 L216.68,177.97 L216.68,177.47 L216.68,176.97 L216.68,176.47 L216.68,175.97 L216.68,175.47 L216.68,174.97 L216.68,174.47 L216.68,173.97 L216.68,173.47 L216.68,172.97 L216.68,172.47 L216.68,171.97 L216.68,171.47 L216.68,170.97 L216.68,170.47 L216.68,169.97 L216.68,169.47 L216.68,168.97 L216.68,168.47 L216.68,167.97 L216.68,167.47 L216.68,166.97 L216.68,166.47 L216.68,165.97 L216.68,165.47 L216.68,164.97 L216.68,164.47 L216.68,163.97 L216.68,163.47 L216.68,162.97 L216.68,162.47 L216.68,161.97 L216.68,161.47 L216.68,160.97 L216.68,160.47 L216.68,159.97 L216.68,159.47 L216.68,158.97 L216.68,158.47 L216.68,157.97 L216.68,157.47 L216.68,156.97 L216.68,156.47 L216.68,155.97 L216.68,155.47 L216.68,154.97 L216.68,154.47 L216.68,153.97 L216.68,153.47 L216.68,152.97 L216.68,152.47 L216.68,151.97 L216.68,151.47 L216.68,150.97 L216.68,150.47 L216.68,149.97 L216.68,149.47 L216.68,148.97 L216.68,148.47 L216.68,147.97 L216.68,147.47 L216.68,146.97 L216.68,146.47 L216.68,145.97 L216.68,145.47 L216.68,144.97 L216.68,144.47 L216.68,143.97 L216.68,143.47 L216.68,142.97 L216.68,142.47 L216.68,141.97 L216.68,141.47 L216.68,140.97 L216.68,140.47 L216.68,139.97 L216.68,139.47 L216.68,138.97 L216.68,138.47 L216.68,137.97 L216.68,137.47 L216.68,136.97 L216.68,136.47 L216.68,135.97 L216.68,135.47 L216.68,134.97 L216.68,134.47 L216.68,133.97 L216.68,133.47 L216.68,132.97 L216.68,132.47 L216.68,131.97 L216.68,131.47 L216.68,130.97 L216.68,130.47 L216.68,129.97 L216.68,129.47 L216.68,128.97 L216.68,128.47 L216.68,127.97 L216.68,127.47 L216.68,126.97 L216.68,126.47 L216.68,125.97 L216.68,125.47 L216.68,124.97 L216.68,124.47 L216.68,123.97 L216.68,123.47 L216.68,122.97 L216.68,122.47 L216.68,121.97 L216.68,121.47 L216.68,120.97 L216.68,120.47 L216.68,119.97 L216.68,119.47 L216.68,118.97 L216.68,118.47 L216.68,117.97 L216.68,117.47 L216.68,116.97 L216.68,116.47 L216.68,115.97 L216.68,115.47 L216.68,114.97 L216.68,114.47 L216.68,113.97 L216.68,113.47 L216.68,112.97 L216.68,112.47 L216.68,111.97 L216.68,111.47 L216.68,110.97 L216.68,110.47 L216.68,109.97 L216.68,109.47 L216.68,108.97 L216.68,108.47 L216.68,107.97 L216.68,107.47 L216.68,106.97 L216.68,106.47 L216.68,105.97 L216.68,105.47 L216.68,104.97 L216.68,104.47 L216.68,103.97 L216.68,103.47 L216.68,102.97 L216.68,102.47 L216.68,101.97 L216.68,101.47 L216.68,100.97 L216.68,100.47 L216.68,99.97 L216.68,99.47 L216.68,99.20 L216.92,99.47 L216.92,99.97 L216.92,100.47 L216.92,100.97 L216.92,101.47 L216.92,101.97 L216.92,102.47 L216.92,102.97 L216.92,103.47 L216.92,103.97 L216.92,104.47 L216.92,104.97 L216.92,105.47 L216.92,105.97 L216.92,106.47 L216.92,106.97 L216.92,107.47 L216.92,107.97 L216.92,108.47 L216.92,108.97 L216.92,109.47 L216.92,109.97 L216.92,110.47 L216.92,110.97 L216.92,111.47 L216.92,111.97 L216.92,112.47 L216.92,112.97 L216.92,113.47 L216.92,113.97 L216.92,114.47 L216.92,114.97 L216.92,115.47 L216.92,115.97 L216.92,116.47 L216.92,116.97 L216.92,117.47 L216.92,117.97 L216.92,118.47 L216.92,118.97 L216.92,119.47 L216.92,119.97 L216.92,120.47 L216.92,120.97 L216.92,121.47 L216.92,121.97 L216.92,122.47 L216.92,122.97 L216.92,123.47 L216.92,123.97 L216.92,124.47 L216.92,124.97 L216.92,125.47 L216.92,125.97 L216.92,126.47 L216.92,126.97 L216.92,127.47 L216.92,127.97 L216.92,128.47 L216.92,128.97 L216.92,129.47 L216.92,129.97 L216.92,130.47 L216.92,130.97 L216.92,131.47 L216.92,131.97 L216.92,132.47 L216.92,132.97 L216.92,133.47 L216.92,133.97 L216.92,134.47 L216.92,134.97 L216.92,135.47 L216.92,135.97 L216.92,136.47 L216.92,136.97 L216.92,137.47 L216.92,137.97 L216.92,138.47 L216.92,138.97 L216.92,139.47 L216.92,139.97 L216.92,140.47 L216.92,140.97 L216.92,141.47 L216.92,141.97 L216.92,142.47 L216.92,142.97 L216.92,143.47 L216.92,143.97 L216.92,144.47 L216.92,144.97 L216.92,145.47 L216.92,145.97 L216.92,146.47 L216.92,146.97 L216.92,147.47 L216.92,147.97 L216.92,148.47 L216.92,148.97 L216.92,149.47 L216.92,149.97 L216.92,150.47 L216.92,150.97 L216.92,151.47 L216.92,151.97 L216.92,152.47 L216.92,152.97 L216.92,153.47 L216.92,153.97 L216.92,154.47 L216.92,154.97 L216.92,155.47 L216.92,155.97 L216.92,156.47 L216.92,156.97 L216.92,157.47 L216.92,157.97 L216.92,158.47 L216.92,158.97 L216.92,159.47 L216.92,159.97 L216.92,160.47 L216.92,160.97 L216.92,161.47 L216.92,161.97 L216.92,162.47 L216.92,162.97 L216.92,163.47 L216.92,163.97 L216.92,164.47 L216.92,164.97 L216.92,165.47 L216.92,165.97 L216.92,166.47 L216.92,166.97 L216.92,167.47 L216.92,167.97 L216.92,168.47 L216.92,168.97 L216.92,169.47 L216.92,169.97 L216.92,170.47 L216.92,170.97 L216.92,171.47 L216.92,171.97 L216.92,172.47 L216.92,172.97 L216.92,173.47 L216.92,173.97 L216.92,174.47 L216.92,174.97 L216.92,175.47 L216.92,175.97 L216.92,176.47 L216.92,176.97 L216.92,177.47 L216.92,177.97 L216.92,178.47 L216.92,178.97 L216.92,179.47 L216.92,179.97 L216.92,180.47 L216.92,180.97 L216.92,181.47 L216.92,181.97 L216.92,182.47 L216.92,182.97 L216.92,183.47 L216.92,183.97 L216.92,184.47 L216.92,184.97 L216.92,185.47 L216.92,185.97 L216.92,186.47 L216.92,186.97 L216.92,187.47 L216.92,187.97 L216.92,188.47 L216.92,188.97 L216.93,189.47 L216.94,189.97 L216.95,190.47 L216.97,190.97 L216.99,191.47 L217.01,191.97 L217.03,192.47 L217.05,192.97 L217.08,193.47 L217.11,193.97 L217.14,194.47 L217.18,194.97 L217.21,195.47 L217.26,195.97 L217.30,196.47 L217.36,196.97 L217.42,197.47 L217.48,197.97 L217.55,198.47 L217.63,198.97 L217.71,199.47 L217.81,199.97 L217.91,200.47 L218.03,200.97 L218.16,201.47 L218.30,201.46" stroke-dashoffset="7.62"/><path d="M228.50,197.76 L228.63,196.73 L228.75,196.23 L228.86,195.73 L228.96,195.23 L229.05,194.73 L229.13,194.23 L229.20,193.73 L229.27,193.23 L229.33,192.73 L229.38,192.23 L229.43,191.73 L229.47,191.23 L229.51,190.73 L229.55,190.23 L229.58,189.73 L229.61,189.23 L229.64,188.73 L229.66,188.23 L229.69,187.73 L229.71,187.23 L229.72,186.73 L229.74,186.23 L229.76,185.73 L229.77,185.23 L229.78,184.73 L229.78,184.23 L229.78,183.73 L229.78,183.23 L229.78,182.73 L229.78,182.23 L229.78,181.73 L229.78,181.23 L229.78,180.73 L229.78,180.23 L229.78,179.73 L229.78,179.23 L229.78,178.73 L229.78,178.23 L229.78,177.73 L229.78,177.23 L229.78,176.73 L229.78,176.23 L229.78,175.73 L229.78,175.23 L229.78,174.73 L229.78,174.23 L229.78,173.73 L229.78,173.23 L229.78,172.73 L229.78,172.23 L229.78,171.73 L229.78,171.23 L229.78,170.73 L229.78,170.23 L229.78,169.73 L229.78,169.23 L229.78,168.73 L229.78,168.23 L229.78,167.73 L229.78,167.23 L229.78,166.73 L229.78,166.23 L229.78,165.73 L229.78,165.23 L229.78,164.73 L229.78,164.23 L229.78,163.73 L229.78,163.23 L229.78,162.73 L229.78,162.23 L229.78,161.73 L229.78,161.23 L229.78,160.73 L229.78,160.23 L229.78,159.73 L229.78,159.23 L229.78,158.73 L229.78,158.23 L229.78,157.73 L229.78,157.23 L229.78,156.73 L229.78,156.23 L229.78,155.73 L229.78,155.23 L229.78,154.73 L229.78,154.23 L229.78,153.73 L229.78,153.23 L229.78,152.73 L229.78,152.23 L229.78,151.73 L229.78,151.23 L229.78,150.73 L229.78,150.23 L229.78,149.73 L229.78,149.23 L229.78,148.73 L229.78,148.23 L229.78,147.73 L229.78,147.23 L229.78,146.73 L229.78,146.23 L229.78,145.73 L229.78,145.23 L229.78,144.73 L229.78,144.23 L229.78,143.73 L229.78,143.23 L229.78,142.73 L229.78,142.23 L229.78,141.73 L229.78,141.23 L229.78,140.73 L229.78,140.23 L229.78,139.73 L229.78,139.23 L229.78,138.73 L229.78,138.23 L229.78,137.73 L229.78,137.23 L229.78,136.73 L229.78,136.23 L229.78,135.73 L229.78,135.23 L229.78,134.73 L229.78,134.23 L229.78,133.73 L229.78,133.23 L229.78,132.73 L229.78,132.23 L229.78,131.73 L229.78,131.23 L229.78,130.73 L229.78,130.23 L229.78,129.73 L229.78,129.23 L229.78,128.73 L229.78,128.23 L229.78,127.73 L229.78,127.23 L229.78,126.73 L229.78,126.23 L229.78,125.73 L229.78,125.23 L229.78,124.73 L229.78,124.23 L229.78,123.73 L229.78,123.23 L229.78,122.73 L229.78,122.23 L229.78,121.73 L229.78,121.23 L229.78,120.73 L229.78,120.23 L229.78,119.73 L229.78,119.23 L229.78,118.73 L229.78,118.23 L229.78,117.73 L229.78,117.23 L229.78,116.73 L229.78,116.23 L229.78,115.73 L229.78,115.23 L229.78,114.73 L229.78,114.60 L230.02,114.73 L230.02,115.23 L230.02,115.73 L230.02,116.23 L230.02,116.73 L230.02,117.23 L230.02,117.73 L230.02,118.23 L230.02,118.73 L230.02,119.23 L230.02,119.73 L230.02,120.23 L230.02,120.73 L230.02,121.23 L230.02,121.73 L230.02,122.23 L230.02,122.73 L230.02,123.23 L230.02,123.73 L230.02,124.23 L230.02,124.73 L230.02,125.23 L230.02,125.73 L230.02,126.23 L230.02,126.73 L230.02,127.23 L230.02,127.73 L230.02,128.23 L230.02,128.73 L230.02,129.23 L230.02,129.73 L230.02,130.23 L230.02,130.73 L230.02,131.23 L230.02,131.73 L230.02,132.23 L230.02,132.73 L230.02,133.23 L230.02,133.73 L230.02,134.23 L230.02,134.73 L230.02,135.23 L230.02,135.73 L230.02,136.23 L230.02,136.73 L230.02,137.23 L230.02,137.73 L230.02,138.23 L230.02,138.73 L230.02,139.23 L230.02,139.73 L230.02,140.23 L230.02,140.73 L230.02,141.23 L230.02,141.73 L230.02,142.23 L230.02,142.73 L230.02,143.23 L230.02,143.73 L230.02,144.23 L230.02,144.73 L230.02,145.23 L230.02,145.73 L230.02,146.23 L230.02,146.73 L230.02,147.23 L230.02,147.73 L230.02,148.23 L230.02,148.73 L230.02,149.23 L230.02,149.73 L230.02,150.23 L230.02,150.73 L230.02,151.23 L230.02,151.73 L230.02,152.23 L230.02,152.73 L230.02,153.23 L230.02,153.73 L230.02,154.23 L230.02,154.73 L230.02,155.23 L230.02,155.73 L230.02,156.23 L230.02,156.73 L230.02,157.23 L230.02,157.73 L230.02,158.23 L230.02,158.73 L230.02,159.23 L230.02,159.73 L230.02,160.23 L230.02,160.73 L230.02,161.23 L230.02,161.73 L230.02,162.23 L230.02,162.73 L230.02,163.23 L230.02,163.73 L230.02,164.23 L230.02,164.73 L230.02,165.23 L230.02,165.73 L230.02,166.23 L230.02,166.73 L230.02,167.23 L230.02,167.73 L230.02,168.23 L230.02,168.73 L230.02,169.23 L230.02,169.73 L230.02,170.23 L230.02,170.73 L230.02,171.23 L230.02,171.73 L230.02,172.23 L230.02,172.73 L230.02,173.23 L230.02,173.73 L230.02,174.23 L230.02,174.73 L230.02,175.23 L230.02,175.73 L230.02,176.23 L230.02,176.73 L230.02,177.23 L230.02,177.73 L230.02,178.23 L230.02,178.73 L230.02,179.23 L230.02,179.73 L230.02,180.23 L230.02,180.73 L230.02,181.23 L230.02,181.73 L230.02,182.23 L230.02,182.73 L230.02,183.23 L230.02,183.73 L230.02,184.23 L230.02,184.73 L230.03,185.23 L230.04,185.73 L230.06,186.23 L230.08,186.73 L230.09,187.23 L230.11,187.73 L230.14,188.23 L230.16,188.73 L230.19,189.23 L230.22,189.73 L230.25,190.23 L230.29,190.73 L230.33,191.23 L230.37,191.73 L230.42,192.23 L230.47,192.73 L230.53,193.23 L230.60,193.73 L230.67,194.23 L230.75,194.73 L230.84,195.23 L230.94,195.73 L231.05,196.23 L231.17,196.73 L231.30,196.70" stroke-dashoffset="4.50"/><path d="M238.30,193.96 L238.42,192.94 L238.53,192.44 L238.63,191.94 L238.73,191.44 L238.81,190.94 L238.88,190.44 L238.95,189.94 L239.01,189.44 L239.07,188.94 L239.12,188.44 L239.16,187.94 L239.20,187.44 L239.24,186.94 L239.28,186.44 L239.31,185.94 L239.33,185.44 L239.36,184.94 L239.38,184.44 L239.40,183.94 L239.42,183.44 L239.44,182.94 L239.45,182.44 L239.47,181.94 L239.48,181.44 L239.48,180.94 L239.48,180.44 L239.48,179.94 L239.48,179.44 L239.48,178.94 L239.48,178.44 L239.48,177.94 L239.48,177.44 L239.48,176.94 L239.48,176.44 L239.48,175.94 L239.48,175.44 L239.48,174.94 L239.48,174.44 L239.48,173.94 L239.48,173.44 L239.48,172.94 L239.48,172.44 L239.48,171.94 L239.48,171.44 L239.48,170.94 L239.48,170.44 L239.48,169.94 L239.48,169.44 L239.48,168.94 L239.48,168.44 L239.48,167.94 L239.48,167.44 L239.48,166.94 L239.48,166.44 L239.48,165.94 L239.48,165.44 L239.48,164.94 L239.48,164.44 L239.48,163.94 L239.48,163.44 L239.48,162.94 L239.48,162.44 L239.48,161.94 L239.48,161.44 L239.48,160.94 L239.48,160.44 L239.48,159.94 L239.48,159.44 L239.48,158.94 L239.48,158.44 L239.48,157.94 L239.48,157.44 L239.48,156.94 L239.48,156.44 L239.48,155.94 L239.48,155.44 L239.48,154.94 L239.48,154.44 L239.48,153.94 L239.48,153.44 L239.48,152.94 L239.48,152.44 L239.48,151.94 L239.48,151.44 L239.48,150.94 L239.48,150.44 L239.48,149.94 L239.48,149.44 L239.48,148.94 L239.48,148.44 L239.48,147.94 L239.48,147.44 L239.48,146.94 L239.48,146.44 L239.48,145.94 L239.48,145.44 L239.48,144.94 L239.48,144.44 L239.48,143.94 L239.48,143.44 L239.48,142.94 L239.48,142.44 L239.48,141.94 L239.48,141.44 L239.48,140.94 L239.48,140.44 L239.48,139.94 L239.48,139.44 L239.48,138.94 L239.48,138.44 L239.48,137.94 L239.48,137.44 L239.48,136.94 L239.48,136.44 L239.48,135.94 L239.48,135.44 L239.48,134.94 L239.48,134.44 L239.48,133.94 L239.48,133.44 L239.48,132.94 L239.48,132.44 L239.48,131.94 L239.48,131.44 L239.48,130.94 L239.48,130.44 L239.48,129.94 L239.48,129.44 L239.48,128.94 L239.48,128.44 L239.48,127.94 L239.48,127.44 L239.48,126.94 L239.48,126.44 L239.48,125.94 L239.48,125.44 L239.48,124.94 L239.48,124.70 L239.72,124.94 L239.72,125.44 L239.72,125.94 L239.72,126.44 L239.72,126.94 L239.72,127.44 L239.72,127.94 L239.72,128.44 L239.72,128.94 L239.72,129.44 L239.72,129.94 L239.72,130.44 L239.72,130.94 L239.72,131.44 L239.72,131.94 L239.72,132.44 L239.72,132.94 L239.72,133.44 L239.72,133.94 L239.72,134.44 L239.72,134.94 L239.72,135.44 L239.72,135.94 L239.72,136.44 L239.72,136.94 L239.72,137.44 L239.72,137.94 L239.72,138.44 L239.72,138.94 L239.72,139.44 L239.72,139.94 L239.72,140.44 L239.72,140.94 L239.72,141.44 L239.72,141.94 L239.72,142.44 L239.72,142.94 L239.72,143.44 L239.72,143.94 L239.72,144.44 L239.72,144.94 L239.72,145.44 L239.72,145.94 L239.72,146.44 L239.72,146.94 L239.72,147.44 L239.72,147.94 L239.72,148.44 L239.72,148.94 L239.72,149.44 L239.72,149.94 L239.72,150.44 L239.72,150.94 L239.72,151.44 L239.72,151.94 L239.72,152.44 L239.72,152.94 L239.72,153.44 L239.72,153.94 L239.72,154.44 L239.72,154.94 L239.72,155.44 L239.72,155.94 L239.72,156.44 L239.72,156.94 L239.72,157.44 L239.72,157.94 L239.72,158.44 L239.72,158.94 L239.72,159.44 L239.72,159.94 L239.72,160.44 L239.72,160.94 L239.72,161.44 L239.72,161.94 L239.72,162.44 L239.72,162.94 L239.72,163.44 L239.72,163.94 L239.72,164.44 L239.72,164.94 L239.72,165.44 L239.72,165.94 L239.72,166.44 L239.72,166.94 L239.72,167.44 L239.72,167.94 L239.72,168.44 L239.72,168.94 L239.72,169.44 L239.72,169.94 L239.72,170.44 L239.72,170.94 L239.72,171.44 L239.72,171.94 L239.72,172.44 L239.72,172.94 L239.72,173.44 L239.72,173.94 L239.72,174.44 L239.72,174.94 L239.72,175.44 L239.72,175.94 L239.72,176.44 L239.72,176.94 L239.72,177.44 L239.72,177.94 L239.72,178.44 L239.72,178.94 L239.72,179.44 L239.72,179.94 L239.72,180.44 L239.72,180.94 L239.72,181.44 L239.73,181.94 L239.75,182.44 L239.76,182.94 L239.78,183.44 L239.80,183.94 L239.82,184.44 L239.84,184.94 L239.87,185.44 L239.89,185.94 L239.92,186.44 L239.96,186.94 L240.00,187.44 L240.04,187.94 L240.08,188.44 L240.13,188.94 L240.19,189.44 L240.25,189.94 L240.32,190.44 L240.39,190.94 L240.47,191.44 L240.57,191.94 L240.67,192.44 L240.78,192.94 L240.90,192.92" stroke-dashoffset="2.91"/><path d="M247.00,190.44 L247.12,189.41 L247.23,188.91 L247.33,188.41 L247.43,187.91 L247.51,187.41 L247.58,186.91 L247.65,186.41 L247.71,185.91 L247.77,185.41 L247.82,184.91 L247.86,184.41 L247.90,183.91 L247.94,183.41 L247.98,182.91 L248.01,182.41 L248.03,181.91 L248.06,181.41 L248.08,180.91 L248.10,180.41 L248.12,179.91 L248.14,179.41 L248.15,178.91 L248.17,178.41 L248.18,177.91 L248.18,177.41 L248.18,176.91 L248.18,176.41 L248.18,175.91 L248.18,175.41 L248.18,174.91 L248.18,174.41 L248.18,173.91 L248.18,173.41 L248.18,172.91 L248.18,172.41 L248.18,171.91 L248.18,171.41 L248.18,170.91 L248.18,170.41 L248.18,169.91 L248.18,169.41 L248.18,168.91 L248.18,168.41 L248.18,167.91 L248.18,167.41 L248.18,166.91 L248.18,166.41 L248.18,165.91 L248.18,165.41 L248.18,164.91 L248.18,164.41 L248.18,163.91 L248.18,163.41 L248.18,162.91 L248.18,162.41 L248.18,161.91 L248.18,161.41 L248.18,160.91 L248.18,160.41 L248.18,159.91 L248.18,159.41 L248.18,158.91 L248.18,158.41 L248.18,157.91 L248.18,157.41 L248.18,156.91 L248.18,156.41 L248.18,155.91 L248.18,155.41 L248.18,154.91 L248.18,154.41 L248.18,153.91 L248.18,153.41 L248.18,152.91 L248.18,152.41 L248.18,151.91 L248.18,151.41 L248.18,150.91 L248.18,150.41 L248.18,149.91 L248.18,149.41 L248.18,148.91 L248.18,148.41 L248.18,147.91 L248.18,147.41 L248.18,146.91 L248.18,146.41 L248.18,145.91 L248.18,145.41 L248.18,144.91 L248.18,144.41 L248.18,143.91 L248.18,143.41 L248.18,142.91 L248.18,142.41 L248.18,141.91 L248.18,141.41 L248.18,140.91 L248.18,140.41 L248.18,139.91 L248.18,139.41 L248.18,138.91 L248.18,138.41 L248.18,137.91 L248.18,137.41 L248.18,136.91 L248.18,136.41 L248.18,135.91 L248.18,135.41 L248.18,134.91 L248.18,134.41 L248.18,133.91 L248.18,133.41 L248.18,132.91 L248.18,132.90 L248.42,132.91 L248.42,133.41 L248.42,133.91 L248.42,134.41 L248.42,134.91 L248.42,135.41 L248.42,135.91 L248.42,136.41 L248.42,136.91 L248.42,137.41 L248.42,137.91 L248.42,138.41 L248.42,138.91 L248.42,139.41 L248.42,139.91 L248.42,140.41 L248.42,140.91 L248.42,141.41 L248.42,141.91 L248.42,142.41 L248.42,142.91 L248.42,143.41 L248.42,143.91 L248.42,144.41 L248.42,144.91 L248.42,145.41 L248.42,145.91 L248.42,146.41 L248.42,146.91 L248.42,147.41 L248.42,147.91 L248.42,148.41 L248.42,148.91 L248.42,149.41 L248.42,149.91 L248.42,150.41 L248.42,150.91 L248.42,151.41 L248.42,151.91 L248.42,152.41 L248.42,152.91 L248.42,153.41 L248.42,153.91 L248.42,154.41 L248.42,154.91 L248.42,155.41 L248.42,155.91 L248.42,156.41 L248.42,156.91 L248.42,157.41 L248.42,157.91 L248.42,158.41 L248.42,158.91 L248.42,159.41 L248.42,159.91 L248.42,160.41 L248.42,160.91 L248.42,161.41 L248.42,161.91 L248.42,162.41 L248.42,162.91 L248.42,163.41 L248.42,163.91 L248.42,164.41 L248.42,164.91 L248.42,165.41 L248.42,165.91 L248.42,166.41 L248.42,166.91 L248.42,167.41 L248.42,167.91 L248.42,168.41 L248.42,168.91 L248.42,169.41 L248.42,169.91 L248.42,170.41 L248.42,170.91 L248.42,171.41 L248.42,171.91 L248.42,172.41 L248.42,172.91 L248.42,173.41 L248.42,173.91 L248.42,174.41 L248.42,174.91 L248.42,175.41 L248.42,175.91 L248.42,176.41 L248.42,176.91 L248.42,177.41 L248.42,177.91 L248.43,178.41 L248.45,178.91 L248.46,179.41 L248.48,179.91 L248.50,180.41 L248.52,180.91 L248.54,181.41 L248.57,181.91 L248.59,182.41 L248.62,182.91 L248.66,183.41 L248.70,183.91 L248.74,184.41 L248.78,184.91 L248.83,185.41 L248.89,185.91 L248.95,186.41 L249.02,186.91 L249.09,187.41 L249.17,187.91 L249.27,188.41 L249.37,188.91 L249.48,189.41 L249.60,189.37" stroke-dashoffset="6.88"/><path d="M254.10,187.50 L254.22,186.46 L254.33,185.96 L254.43,185.46 L254.53,184.96 L254.61,184.46 L254.68,183.96 L254.75,183.46 L254.81,182.96 L254.87,182.46 L254.92,181.96 L254.96,181.46 L255.00,180.96 L255.04,180.46 L255.08,179.96 L255.11,179.46 L255.13,178.96 L255.16,178.46 L255.18,177.96 L255.20,177.46 L255.22,176.96 L255.24,176.46 L255.25,175.96 L255.27,175.46 L255.28,174.96 L255.28,174.46 L255.28,173.96 L255.28,173.46 L255.28,172.96 L255.28,172.46 L255.28,171.96 L255.28,171.46 L255.28,170.96 L255.28,170.46 L255.28,169.96 L255.28,169.46 L255.28,168.96 L255.28,168.46 L255.28,167.96 L255.28,167.46 L255.28,166.96 L255.28,166.46 L255.28,165.96 L255.28,165.46 L255.28,164.96 L255.28,164.46 L255.28,163.96 L255.28,163.46 L255.28,162.96 L255.28,162.46 L255.28,161.96 L255.28,161.46 L255.28,160.96 L255.28,160.46 L255.28,159.96 L255.28,159.46 L255.28,158.96 L255.28,158.46 L255.28,157.96 L255.28,157.46 L255.28,156.96 L255.28,156.46 L255.28,155.96 L255.28,155.46 L255.28,154.96 L255.28,154.46 L255.28,153.96 L255.28,153.46 L255.28,152.96 L255.28,152.46 L255.28,151.96 L255.28,151.46 L255.28,150.96 L255.28,150.46 L255.28,149.96 L255.28,149.46 L255.28,148.96 L255.28,148.46 L255.28,147.96 L255.28,147.46 L255.28,146.96 L255.28,146.46 L255.28,145.96 L255.28,145.46 L255.28,144.96 L255.28,144.46 L255.28,143.96 L255.28,143.46 L255.28,142.96 L255.28,142.46 L255.28,141.96 L255.28,141.46 L255.28,140.96 L255.28,140.46 L255.28,139.96 L255.28,139.46 L255.28,138.96 L255.28,138.46 L255.28,137.96 L255.28,137.46 L255.28,136.96 L255.28,136.46 L255.28,135.96 L255.28,135.46 L255.28,135.40 L255.52,135.46 L255.52,135.96 L255.52,136.46 L255.52,136.96 L255.52,137.46 L255.52,137.96 L255.52,138.46 L255.52,138.96 L255.52,139.46 L255.52,139.96 L255.52,140.46 L255.52,140.96 L255.52,141.46 L255.52,141.96 L255.52,142.46 L255.52,142.96 L255.52,143.46 L255.52,143.96 L255.52,144.46 L255.52,144.96 L255.52,145.46 L255.52,145.96 L255.52,146.46 L255.52,146.96 L255.52,147.46 L255.52,147.96 L255.52,148.46 L255.52,148.96 L255.52,149.46 L255.52,149.96 L255.52,150.46 L255.52,150.96 L255.52,151.46 L255.52,151.96 L255.52,152.46 L255.52,152.96 L255.52,153.46 L255.52,153.96 L255.52,154.46 L255.52,154.96 L255.52,155.46 L255.52,155.96 L255.52,156.46 L255.52,156.96 L255.52,157.46 L255.52,157.96 L255.52,158.46 L255.52,158.96 L255.52,159.46 L255.52,159.96 L255.52,160.46 L255.52,160.96 L255.52,161.46 L255.52,161.96 L255.52,162.46 L255.52,162.96 L255.52,163.46 L255.52,163.96 L255.52,164.46 L255.52,164.96 L255.52,165.46 L255.52,165.96 L255.52,166.46 L255.52,166.96 L255.52,167.46 L255.52,167.96 L255.52,168.46 L255.52,168.96 L255.52,169.46 L255.52,169.96 L255.52,170.46 L255.52,170.96 L255.52,171.46 L255.52,171.96 L255.52,172.46 L255.52,172.96 L255.52,173.46 L255.52,173.96 L255.52,174.46 L255.52,174.96 L255.53,175.46 L255.55,175.96 L255.56,176.46 L255.58,176.96 L255.60,177.46 L255.62,177.96 L255.64,178.46 L255.67,178.96 L255.69,179.46 L255.72,179.96 L255.76,180.46 L255.80,180.96 L255.84,181.46 L255.88,181.96 L255.93,182.46 L255.99,182.96 L256.05,183.46 L256.12,183.96 L256.19,184.46 L256.27,184.96 L256.37,185.46 L256.47,185.96 L256.58,186.46 L256.70,186.42" stroke-dashoffset="4.57"/><path d="M260.10,184.98 L261.30,147.80 L261.80,184.26" stroke-dashoffset="4.05"/><path d="M265.20,182.82 L266.50,153.70 L267.00,182.05" stroke-dashoffset="4.35"/><path d="M270.00,180.77 L271.40,150.20 L271.90,179.96" stroke-dashoffset="2.90"/><path d="M274.10,179.01 L275.60,154.70 L276.10,178.15" stroke-dashoffset="1.39"/><path d="M278.00,177.34 L279.50,164.00 L280.70,176.17" stroke-dashoffset="6.08"/><path d="M281.50,175.83 L283.00,164.80 L284.20,174.66" stroke-dashoffset="0.62"/><path d="M285.20,174.22 L286.70,163.40 L287.90,173.05" stroke-dashoffset="0.82"/><path d="M288.30,172.88 L289.80,164.80 L291.00,171.71" stroke-dashoffset="3.53"/><path d="M291.40,171.54 L292.80,167.00 L293.80,170.49" stroke-dashoffset="7.00"/><path d="M295.45,169.78 L295.46,168.64 L295.47,168.14 L295.48,167.64 L295.49,167.14 L295.50,166.64 L295.51,166.14 L295.53,165.64 L295.54,165.14 L295.55,164.64 L295.56,164.14 L295.57,163.64 L295.58,163.14 L295.59,162.64 L295.60,162.14 L295.61,161.64 L295.62,161.14 L295.63,160.64 L295.64,160.14 L295.65,159.64 L295.66,159.14 L295.67,158.64 L295.68,158.14 L295.68,157.64 L295.69,157.14 L295.70,156.64 L295.71,156.14 L295.72,155.64 L295.73,155.14 L295.74,154.64 L295.75,154.14 L295.76,153.64 L295.77,153.14 L295.78,152.64 L295.78,152.14 L295.79,151.64 L295.80,151.14 L295.81,150.64 L295.82,150.14 L295.83,149.64 L295.83,149.14 L295.84,148.64 L295.85,148.14 L295.86,147.64 L295.87,147.14 L295.87,146.64 L295.88,146.14 L295.89,145.64 L295.90,145.14 L295.91,144.64 L295.91,144.14 L295.92,143.64 L295.93,143.14 L295.94,142.64 L295.94,142.14 L295.95,141.64 L295.96,141.14 L295.96,140.64 L295.97,140.14 L295.98,139.64 L295.99,139.14 L295.99,138.64 L296.00,138.14 L296.01,137.64 L296.01,137.14 L296.02,136.64 L296.03,136.14 L296.03,135.64 L296.04,135.14 L296.05,134.64 L296.05,134.14 L296.06,133.64 L296.07,133.14 L296.07,132.64 L296.08,132.14 L296.09,131.64 L296.09,131.14 L296.10,130.64 L296.10,130.14 L296.11,129.64 L296.12,129.14 L296.12,128.64 L296.13,128.14 L296.13,127.64 L296.14,127.14 L296.15,126.64 L296.15,126.14 L296.16,125.64 L296.16,125.14 L296.17,124.64 L296.17,124.14 L296.18,123.64 L296.19,123.14 L296.19,122.64 L296.20,122.14 L296.20,121.64 L296.21,121.14 L296.21,120.64 L296.22,120.14 L296.22,119.64 L296.23,119.14 L296.23,118.64 L296.24,118.14 L296.24,117.64 L296.25,117.14 L296.25,116.64 L296.26,116.14 L296.26,115.64 L296.27,115.14 L296.27,114.64 L296.28,114.14 L296.28,113.64 L296.29,113.14 L296.29,112.64 L296.30,112.14 L296.30,111.64 L296.31,111.14 L296.31,110.64 L296.32,110.14 L296.32,109.64 L296.32,109.14 L296.33,108.64 L296.33,108.14 L296.34,107.64 L296.34,107.14 L296.35,106.64 L296.35,106.14 L296.35,105.64 L296.36,105.14 L296.36,104.64 L296.37,104.14 L296.37,103.64 L296.38,103.14 L296.38,102.64 L296.38,102.14 L296.39,101.64 L296.39,101.14 L296.40,100.64 L296.40,100.14 L296.40,99.64 L296.41,99.14 L296.41,98.64 L296.41,98.14 L296.42,97.64 L296.42,97.14 L296.43,96.64 L296.43,96.14 L296.43,95.64 L296.44,95.14 L296.44,94.64 L296.44,94.14 L296.45,93.64 L296.45,93.14 L296.45,92.64 L296.46,92.14 L296.46,91.64 L296.46,91.14 L296.47,90.64 L296.47,90.14 L296.47,89.64 L296.48,89.14 L296.48,88.64 L296.48,88.14 L296.49,87.64 L296.49,87.14 L296.49,86.64 L296.50,86.14 L296.50,85.64 L296.50,85.14 L296.51,84.64 L296.51,84.14 L296.51,83.64 L296.51,83.14 L296.52,82.64 L296.52,82.14 L296.52,81.64 L296.53,81.14 L296.53,80.64 L296.53,80.14 L296.53,79.64 L296.54,79.14 L296.54,78.64 L296.54,78.14 L296.55,77.64 L296.55,77.14 L296.55,76.64 L296.55,76.14 L296.56,75.64 L296.56,75.14 L296.56,74.64 L296.56,74.14 L296.57,73.64 L296.57,73.14 L296.57,72.64 L296.57,72.14 L296.58,71.64 L296.58,71.14 L296.58,70.64 L296.58,70.14 L296.59,69.64 L296.59,69.14 L296.59,68.64 L296.59,68.14 L296.60,67.64 L296.60,67.14 L296.60,66.64 L296.60,66.14 L296.61,65.64 L296.61,65.14 L296.61,64.64 L296.61,64.14 L296.61,63.64 L296.62,63.14 L296.62,62.64 L296.62,62.14 L296.62,61.64 L296.63,61.14 L296.63,60.64 L296.63,60.14 L296.63,59.64 L296.63,59.14 L296.64,58.64 L296.64,58.14 L296.64,57.64 L296.64,57.14 L296.64,56.64 L296.65,56.14 L296.65,55.64 L296.65,55.14 L296.65,54.64 L296.65,54.14 L296.66,53.64 L296.66,53.14 L296.66,52.64 L296.66,52.14 L296.66,51.64 L296.66,51.14 L296.67,50.64 L296.67,50.14 L296.67,49.64 L296.67,49.14 L296.67,48.64 L296.68,48.14 L296.68,47.64 L296.68,47.14 L296.68,46.64 L296.68,46.14 L296.68,45.64 L296.69,45.14 L296.69,44.64 L296.69,44.14 L296.69,43.64 L296.69,43.14 L296.69,42.64 L296.69,42.14 L296.70,41.64 L296.70,41.14 L296.70,40.64 L296.70,40.14 L296.70,39.64 L296.70,39.14 L296.71,38.64 L296.71,38.14 L296.71,37.64 L296.71,37.14 L296.71,36.64 L296.71,36.14 L296.71,35.64 L296.72,35.14 L296.72,34.64 L296.72,34.14 L296.72,33.64 L296.72,33.14 L296.72,32.64 L296.72,32.14 L296.73,31.64 L296.73,31.14 L296.73,30.64 L296.73,30.14 L296.73,29.64 L296.73,29.14 L296.73,28.64 L296.73,28.14 L296.74,27.64 L296.74,27.14 L296.74,26.64 L296.74,26.14 L296.74,25.64 L296.74,25.14 L296.74,24.64 L296.74,24.14 L296.75,23.64 L296.75,23.14 L296.75,22.64 L296.75,22.14 L296.75,21.64 L296.75,21.14 L296.75,20.64 L296.75,20.14 L296.75,19.64 L296.76,19.14 L296.76,18.64 L296.76,18.14 L296.76,17.64 L296.76,17.14 L296.76,16.64 L296.76,16.14 L296.76,15.64 L296.76,15.14 L296.77,14.64 L296.77,14.14 L296.77,13.64 L296.77,13.14 L296.77,12.64 L296.77,12.14 L296.77,11.64 L296.77,11.14 L296.77,10.64 L296.77,10.14 L296.78,9.64 L296.78,9.14 L296.78,8.64 L296.78,8.14 L296.78,7.64 L296.78,7.14 L296.78,6.64 L296.78,6.14 L296.78,5.64 L296.78,5.14 L296.78,4.64 L296.79,4.14 L296.79,3.64 L296.79,3.14 L296.79,2.64 L296.79,2.14 L296.79,1.64 L296.79,1.14 L296.79,0.64 L296.79,0.14 L296.79,-0.36 L296.79,-0.86 L296.80,-1.36 L296.80,-1.86 L296.80,-2.36 L296.80,-2.86 L296.80,-3.36 L296.80,-3.86 L296.80,-4.36 L296.80,-4.86 L296.80,-5.00 L297.00,-4.86 L297.00,-4.36 L297.00,-3.86 L297.00,-3.36 L297.00,-2.86 L297.00,-2.36 L297.00,-1.86 L297.00,-1.36 L297.01,-0.86 L297.01,-0.36 L297.01,0.14 L297.01,0.64 L297.01,1.14 L297.01,1.64 L297.01,2.14 L297.01,2.64 L297.01,3.14 L297.01,3.64 L297.01,4.14 L297.02,4.64 L297.02,5.14 L297.02,5.64 L297.02,6.14 L297.02,6.64 L297.02,7.14 L297.02,7.64 L297.02,8.14 L297.02,8.64 L297.02,9.14 L297.02,9.64 L297.03,10.14 L297.03,10.64 L297.03,11.14 L297.03,11.64 L297.03,12.14 L297.03,12.64 L297.03,13.14 L297.03,13.64 L297.03,14.14 L297.03,14.64 L297.04,15.14 L297.04,15.64 L297.04,16.14 L297.04,16.64 L297.04,17.14 L297.04,17.64 L297.04,18.14 L297.04,18.64 L297.04,19.14 L297.05,19.64 L297.05,20.14 L297.05,20.64 L297.05,21.14 L297.05,21.64 L297.05,22.14 L297.05,22.64 L297.05,23.14 L297.05,23.64 L297.06,24.14 L297.06,24.64 L297.06,25.14 L297.06,25.64 L297.06,26.14 L297.06,26.64 L297.06,27.14 L297.06,27.64 L297.07,28.14 L297.07,28.64 L297.07,29.14 L297.07,29.64 L297.07,30.14 L297.07,30.64 L297.07,31.14 L297.07,31.64 L297.08,32.14 L297.08,32.64 L297.08,33.14 L297.08,33.64 L297.08,34.14 L297.08,34.64 L297.08,35.14 L297.09,35.64 L297.09,36.14 L297.09,36.64 L297.09,37.14 L297.09,37.64 L297.09,38.14 L297.09,38.64 L297.10,39.14 L297.10,39.64 L297.10,40.14 L297.10,40.64 L297.10,41.14 L297.10,41.64 L297.11,42.14 L297.11,42.64 L297.11,43.14 L297.11,43.64 L297.11,44.14 L297.11,44.64 L297.11,45.14 L297.12,45.64 L297.12,46.14 L297.12,46.64 L297.12,47.14 L297.12,47.64 L297.12,48.14 L297.13,48.64 L297.13,49.14 L297.13,49.64 L297.13,50.14 L297.13,50.64 L297.14,51.14 L297.14,51.64 L297.14,52.14 L297.14,52.64 L297.14,53.14 L297.14,53.64 L297.15,54.14 L297.15,54.64 L297.15,55.14 L297.15,55.64 L297.15,56.14 L297.16,56.64 L297.16,57.14 L297.16,57.64 L297.16,58.14 L297.16,58.64 L297.17,59.14 L297.17,59.64 L297.17,60.14 L297.17,60.64 L297.17,61.14 L297.18,61.64 L297.18,62.14 L297.18,62.64 L297.18,63.14 L297.19,63.64 L297.19,64.14 L297.19,64.64 L297.19,65.14 L297.19,65.64 L297.20,66.14 L297.20,66.64 L297.20,67.14 L297.20,67.64 L297.21,68.14 L297.21,68.64 L297.21,69.14 L297.21,69.64 L297.22,70.14 L297.22,70.64 L297.22,71.14 L297.22,71.64 L297.23,72.14 L297.23,72.64 L297.23,73.14 L297.23,73.64 L297.24,74.14 L297.24,74.64 L297.24,75.14 L297.24,75.64 L297.25,76.14 L297.25,76.64 L297.25,77.14 L297.25,77.64 L297.26,78.14 L297.26,78.64 L297.26,79.14 L297.27,79.64 L297.27,80.14 L297.27,80.64 L297.27,81.14 L297.28,81.64 L297.28,82.14 L297.28,82.64 L297.29,83.14 L297.29,83.64 L297.29,84.14 L297.29,84.64 L297.30,85.14 L297.30,85.64 L297.30,86.14 L297.31,86.64 L297.31,87.14 L297.31,87.64 L297.32,88.14 L297.32,88.64 L297.32,89.14 L297.33,89.64 L297.33,90.14 L297.33,90.64 L297.34,91.14 L297.34,91.64 L297.34,92.14 L297.35,92.64 L297.35,93.14 L297.35,93.64 L297.36,94.14 L297.36,94.64 L297.36,95.14 L297.37,95.64 L297.37,96.14 L297.37,96.64 L297.38,97.14 L297.38,97.64 L297.39,98.14 L297.39,98.64 L297.39,99.14 L297.40,99.64 L297.40,100.14 L297.40,100.64 L297.41,101.14 L297.41,101.64 L297.42,102.14 L297.42,102.64 L297.42,103.14 L297.43,103.64 L297.43,104.14 L297.44,104.64 L297.44,105.14 L297.45,105.64 L297.45,106.14 L297.45,106.64 L297.46,107.14 L297.46,107.64 L297.47,108.14 L297.47,108.64 L297.48,109.14 L297.48,109.64 L297.48,110.14 L297.49,110.64 L297.49,111.14 L297.50,111.64 L297.50,112.14 L297.51,112.64 L297.51,113.14 L297.52,113.64 L297.52,114.14 L297.53,114.64 L297.53,115.14 L297.54,115.64 L297.54,116.14 L297.55,116.64 L297.55,117.14 L297.56,117.64 L297.56,118.14 L297.57,118.64 L297.57,119.14 L297.58,119.64 L297.58,120.14 L297.59,120.64 L297.59,121.14 L297.60,121.64 L297.60,122.14 L297.61,122.64 L297.61,123.14 L297.62,123.64 L297.63,124.14 L297.63,124.64 L297.64,125.14 L297.64,125.64 L297.65,126.14 L297.65,126.64 L297.66,127.14 L297.67,127.64 L297.67,128.14 L297.68,128.64 L297.68,129.14 L297.69,129.64 L297.70,130.14 L297.70,130.64 L297.71,131.14 L297.71,131.64 L297.72,132.14 L297.73,132.64 L297.73,133.14 L297.74,133.64 L297.75,134.14 L297.75,134.64 L297.76,135.14 L297.77,135.64 L297.77,136.14 L297.78,136.64 L297.79,137.14 L297.79,137.64 L297.80,138.14 L297.81,138.64 L297.81,139.14 L297.82,139.64 L297.83,140.14 L297.84,140.64 L297.84,141.14 L297.85,141.64 L297.86,142.14 L297.86,142.64 L297.87,143.14 L297.88,143.64 L297.89,144.14 L297.89,144.64 L297.90,145.14 L297.91,145.64 L297.92,146.14 L297.93,146.64 L297.93,147.14 L297.94,147.64 L297.95,148.14 L297.96,148.64 L297.97,149.14 L297.97,149.64 L297.98,150.14 L297.99,150.64 L298.00,151.14 L298.01,151.64 L298.02,152.14 L298.02,152.64 L298.03,153.14 L298.04,153.64 L298.05,154.14 L298.06,154.64 L298.07,155.14 L298.08,155.64 L298.09,156.14 L298.10,156.64 L298.11,157.14 L298.12,157.64 L298.12,158.14 L298.13,158.64 L298.14,159.14 L298.15,159.64 L298.16,160.14 L298.17,160.64 L298.18,161.14 L298.19,161.64 L298.20,162.14 L298.21,162.64 L298.22,163.14 L298.23,163.64 L298.24,164.14 L298.25,164.64 L298.26,165.14 L298.27,165.64 L298.29,166.14 L298.30,166.64 L298.31,167.14 L298.32,167.64 L298.33,168.14 L298.34,168.64 L298.35,168.51" stroke-dashoffset="5.47"/></g></g>
<path d="M40.40,9.38 L40.87,12.35 L41.35,15.31 L41.82,18.27 L42.29,21.23 L42.76,24.19 L43.24,27.16 L43.71,30.12 L44.18,33.08 L44.65,36.04 L45.13,39.00 L45.60,41.97 L46.07,44.93 L46.54,47.89 L47.02,50.85 L47.49,53.81 L47.96,56.78 L48.43,59.74 L48.91,62.70 L49.38,65.66 L49.85,68.62 L50.33,71.59 L50.80,74.55 L51.27,77.51 L51.74,80.47 L52.22,83.43 L52.69,86.39 L53.16,89.35 L53.63,92.31 L54.11,95.27 L54.58,98.23 L55.05,101.19 L55.52,104.15 L56.00,107.10 L56.47,110.05 L56.94,113.00 L57.41,115.95 L57.89,118.90 L58.36,121.83 L58.83,124.76 L59.30,127.69 L59.78,130.60 L60.25,133.50 L60.72,136.38 L61.20,139.23 L61.67,142.06 L62.14,144.86 L62.61,147.61 L63.09,150.30 L63.56,152.93 L64.03,155.48 L64.50,157.94 L64.98,160.29 L65.45,162.52 L65.92,164.61 L66.39,166.54 L66.87,168.33 L67.34,169.95 L67.81,171.42 L68.28,172.74 L68.76,173.92 L69.23,174.97 L69.70,175.91 L70.18,176.75 L70.65,177.51 L71.12,178.21 L71.59,178.84 L72.07,179.44 L72.54,179.99 L73.01,180.52 L73.48,181.02 L73.96,181.50 L74.43,181.97 L74.90,182.42 L75.37,182.87 L75.85,183.31 L76.32,183.75 L76.79,184.18 L77.26,184.61 L77.74,185.03 L78.21,185.45 L78.68,185.87 L79.15,186.29 L79.63,186.71 L80.10,187.13 L80.57,187.54 L81.05,187.96 L81.52,188.38 L81.99,188.79 L82.46,189.21 L82.94,189.62 L83.41,190.04 L83.88,190.45 L84.35,190.87 L84.83,191.28 L85.30,191.69 L85.77,192.11 L86.24,192.52 L86.72,192.94 L87.19,193.35 L87.66,193.76 L88.13,194.18 L88.61,194.59 L89.08,195.00 L89.55,195.41 L90.03,195.83 L90.50,196.24 L90.97,196.65 L91.44,197.06 L91.92,197.47 L92.39,197.89 L92.86,198.30 L93.33,198.71 L93.81,199.12 L94.28,199.53 L94.75,199.94 L95.22,200.35 L95.70,200.75 L96.17,201.16 L96.64,201.57 L97.11,201.98 L97.59,202.39 L98.06,202.79 L98.53,203.20 L99.01,203.60 L99.48,204.01 L99.95,204.41 L100.42,204.81 L100.90,205.22 L101.37,205.62 L101.84,206.02 L102.31,206.42 L102.79,206.82 L103.26,207.21 L103.73,207.61 L104.20,208.01 L104.68,208.40 L105.15,208.79 L105.62,209.18 L106.09,209.57 L106.57,209.96 L107.04,210.35 L107.51,210.73 L107.98,211.12 L108.46,211.50 L108.93,211.88 L109.40,212.25 L109.88,212.63 L110.35,213.00 L110.82,213.37 L111.29,213.74 L111.77,214.10 L112.24,214.46 L112.71,214.82 L113.18,215.17 L113.66,215.52 L114.13,215.87 L114.60,216.21 L115.07,216.55 L115.55,216.89 L116.02,217.22 L116.49,217.54 L116.96,217.87 L117.44,218.18 L117.91,218.49 L118.38,218.80 L118.86,219.10 L119.33,219.39 L119.80,219.68 L120.27,219.96 L120.75,220.23 L121.22,220.50 L121.69,220.76 L122.16,221.02 L122.64,221.26 L123.11,221.50 L123.58,221.73 L124.05,221.95 L124.53,222.17 L125.00,222.37 L125.47,222.57 L125.94,222.75 L126.42,222.93 L126.89,223.10 L127.36,223.26 L127.83,223.41 L128.31,223.55 L128.78,223.69 L129.25,223.81 L129.73,223.92 L130.20,224.02 L130.67,224.12 L131.14,224.20 L131.62,224.27 L132.09,224.34 L132.56,224.39 L133.03,224.44 L133.51,224.48 L133.98,224.50 L134.45,224.52 L134.92,224.53 L135.40,224.53 L135.87,224.52 L136.34,224.51 L136.81,224.48 L137.29,224.45 L137.76,224.41 L138.23,224.36 L138.71,224.31 L139.18,224.24 L139.65,224.17 L140.12,224.10 L140.60,224.02 L141.07,223.93 L141.54,223.83 L142.01,223.73 L142.49,223.63 L142.96,223.52 L143.43,223.40 L143.90,223.28 L144.38,223.15 L144.85,223.02 L145.32,222.89 L145.79,222.75 L146.27,222.61 L146.74,222.46 L147.21,222.31 L147.68,222.16 L148.16,222.00 L148.63,221.85 L149.10,221.68 L149.58,221.52 L150.05,221.35 L150.52,221.18 L150.99,221.01 L151.47,220.84 L151.94,220.66 L152.41,220.48 L152.88,220.30 L153.36,220.12 L153.83,219.94 L154.30,219.75 L154.77,219.56 L155.25,219.38 L155.72,219.19 L156.19,219.00 L156.66,218.81 L157.14,218.61 L157.61,218.42 L158.08,218.22 L158.56,218.03 L159.03,217.83 L159.50,217.63 L159.97,217.43 L160.45,217.23 L160.92,217.03 L161.39,216.83 L161.86,216.63 L162.34,216.43 L162.81,216.23 L163.28,216.03 L163.75,215.82 L164.23,215.62 L164.70,215.41 L165.17,215.21 L165.64,215.00 L166.12,214.80 L166.59,214.59 L167.06,214.39 L167.54,214.18 L168.01,213.97 L168.48,213.77 L168.95,213.56 L169.43,213.35 L169.90,213.15 L170.37,212.94 L170.84,212.73 L171.32,212.52 L171.79,212.31 L172.26,212.10 L172.73,211.90 L173.21,211.69 L173.68,211.48 L174.15,211.27 L174.62,211.06 L175.10,210.85 L175.57,210.64 L176.04,210.43 L176.51,210.22 L176.99,210.01 L177.46,209.80 L177.93,209.59 L178.41,209.38 L178.88,209.17 L179.35,208.96 L179.82,208.75 L180.30,208.54 L180.77,208.33 L181.24,208.12 L181.71,207.91 L182.19,207.70 L182.66,207.49 L183.13,207.28 L183.60,207.07 L184.08,206.86 L184.55,206.65 L185.02,206.43 L185.49,206.22 L185.97,206.01 L186.44,205.80 L186.91,205.59 L187.39,205.38 L187.86,205.17 L188.33,204.96 L188.80,204.75 L189.28,204.54 L189.75,204.33 L190.22,204.11 L190.69,203.90 L191.17,203.69 L191.64,203.48 L192.11,203.27 L192.58,203.06 L193.06,202.85 L193.53,202.64 L194.00,202.43 L194.47,202.22 L194.95,202.00 L195.42,201.79 L195.89,201.58 L196.36,201.37 L196.84,201.16 L197.31,200.95 L197.78,200.74 L198.26,200.53 L198.73,200.32 L199.20,200.10 L199.67,199.89 L200.15,199.68 L200.62,199.47 L201.09,199.26 L201.56,199.05 L202.04,198.84 L202.51,198.63 L202.98,198.42 L203.45,198.20 L203.93,197.99 L204.40,197.78 L204.87,197.57 L205.34,197.36 L205.82,197.15 L206.29,196.94 L206.76,196.73 L207.24,196.51 L207.71,196.30 L208.18,196.09 L208.65,195.88 L209.13,195.67 L209.60,195.46 L210.07,195.25 L210.54,195.04 L211.02,194.83 L211.49,194.61 L211.96,194.40 L212.43,194.19 L212.91,193.98 L213.38,193.77 L213.85,193.56 L214.32,193.35 L214.80,193.14 L215.27,192.92 L215.74,192.71 L216.22,192.50 L216.69,192.29 L217.16,192.08 L217.63,191.87 L218.11,191.66 L218.58,191.45 L219.05,191.23 L219.52,191.02 L220.00,190.81 L220.47,190.60 L220.94,190.39 L221.41,190.18 L221.89,189.97 L222.36,189.76 L222.83,189.54 L223.30,189.33 L223.78,189.12 L224.25,188.91 L224.72,188.70 L225.19,188.49 L225.67,188.28 L226.14,188.07 L226.61,187.86 L227.09,187.64 L227.56,187.43 L228.03,187.22 L228.50,187.01 L228.98,186.80 L229.45,186.59 L229.92,186.38 L230.39,186.17 L230.87,185.95 L231.34,185.74 L231.81,185.53 L232.28,185.32 L232.76,185.11 L233.23,184.90 L233.70,184.69 L234.17,184.48 L234.65,184.26 L235.12,184.05 L235.59,183.84 L236.07,183.63 L236.54,183.42 L237.01,183.21 L237.48,183.00 L237.96,182.79 L238.43,182.57 L238.90,182.36 L239.37,182.15 L239.85,181.94 L240.32,181.73 L240.79,181.52 L241.26,181.31 L241.74,181.10 L242.21,180.89 L242.68,180.67 L243.15,180.46 L243.63,180.25 L244.10,180.04 L244.57,179.83 L245.04,179.62 L245.52,179.41 L245.99,179.20 L246.46,178.98 L246.94,178.77 L247.41,178.56 L247.88,178.35 L248.35,178.14 L248.83,177.93 L249.30,177.72 L249.77,177.51 L250.24,177.29 L250.72,177.08 L251.19,176.87 L251.66,176.66 L252.13,176.45 L252.61,176.24 L253.08,176.03 L253.55,175.82 L254.02,175.60 L254.50,175.39 L254.97,175.18 L255.44,174.97 L255.92,174.76 L256.39,174.55 L256.86,174.34 L257.33,174.13 L257.81,173.91 L258.28,173.70 L258.75,173.49 L259.22,173.28 L259.70,173.07 L260.17,172.86 L260.64,172.65 L261.11,172.44 L261.59,172.23 L262.06,172.01 L262.53,171.80 L263.00,171.59 L263.48,171.38 L263.95,171.17 L264.42,170.96 L264.89,170.75 L265.37,170.54 L265.84,170.32 L266.31,170.11 L266.79,169.90 L267.26,169.69 L267.73,169.48 L268.20,169.27 L268.68,169.06 L269.15,168.85 L269.62,168.63 L270.09,168.42 L270.57,168.21 L271.04,168.00 L271.51,167.79 L271.98,167.58 L272.46,167.37 L272.93,167.16 L273.40,166.94 L273.87,166.73 L274.35,166.52 L274.82,166.31 L275.29,166.10 L275.77,165.89 L276.24,165.68 L276.71,165.47 L277.18,165.26 L277.66,165.04 L278.13,164.83 L278.60,164.62 L279.07,164.41 L279.55,164.20 L280.02,163.99 L280.49,163.78 L280.96,163.57 L281.44,163.35 L281.91,163.14 L282.38,162.93 L282.85,162.72 L283.33,162.51 L283.80,162.30 L284.27,162.09 L284.75,161.88 L285.22,161.66 L285.69,161.45 L286.16,161.24 L286.64,161.03 L287.11,160.82 L287.58,160.61 L288.05,160.40 L288.53,160.19 L289.00,159.97 L289.47,159.76 L289.94,159.55 L290.42,159.34 L290.89,159.13 L291.36,158.92 L291.83,158.71 L292.31,158.50 L292.78,158.28 L293.25,158.07 L293.72,157.86 L294.20,157.65 L294.67,157.44 L295.14,157.23 L295.62,157.02 L296.09,156.81 L296.56,156.60 L297.03,156.38 L297.51,156.17 L297.98,155.96 L298.45,155.75 L298.92,155.54 L299.40,155.33 L299.87,155.12 L300.34,154.91 L300.81,154.69 L301.29,154.48 L301.76,154.27 L302.23,154.06 L302.70,153.85 L303.18,153.64 L303.65,153.43 L304.12,153.22 L304.60,153.00 L305.07,152.79 L305.54,152.58 L306.01,152.37 L306.49,152.16 L306.96,151.95 L307.43,151.74 L307.90,151.53 L308.38,151.31 L308.85,151.10 L309.32,150.89 L309.79,150.68 L310.27,150.47 L310.74,150.26 L311.21,150.05 L311.68,149.84 L312.16,149.63 L312.63,149.41 L313.10,149.20 L313.57,148.99 L314.05,148.78 L314.52,148.57 L314.99,148.36 L315.47,148.15 L315.94,147.94 L316.41,147.72 L316.88,147.51 L317.36,147.30 L317.83,147.09 L318.30,146.88 L318.77,146.67 L319.25,146.46 L319.72,146.25 L320.19,146.03 L320.66,145.82 L321.14,145.61 L321.61,145.40 L322.08,145.19 L322.55,144.98 L323.03,144.77 L323.50,144.56" fill="none" stroke="#4040ff" stroke-width="1.05" stroke-linejoin="round"/>
</g>
<rect x="232.95" y="11.55" width="87.3" height="26.0" fill="#fff" stroke="#111" stroke-width="1"/>
<path d="M236.4,18.65H255.3" stroke="#4040ff" stroke-width="1.05"/>
<path d="M236.7,30.65H255.3" stroke="#ff4040" stroke-width="1.05" stroke-dasharray="3.7 3.7"/>
<text x="257.8" y="22.6" class="t">LIGO (H<tspan class="h1">1</tspan>,L<tspan class="h1">1</tspan>)</text>
<text x="257.8" y="34.3" class="t">VIRGO (V<tspan class="h1">1</tspan>)</text>
<text x="38.9" y="12.6" text-anchor="end" class="t"><tspan class="h1">1</tspan>0<tspan class="e" dy="-6.2">−36</tspan></text><text x="38.9" y="59.5" text-anchor="end" class="t"><tspan class="h1">1</tspan>0<tspan class="e" dy="-6.2">−38</tspan></text><text x="38.9" y="106.4" text-anchor="end" class="t"><tspan class="h1">1</tspan>0<tspan class="e" dy="-6.2">−40</tspan></text><text x="38.9" y="153.2" text-anchor="end" class="t"><tspan class="h1">1</tspan>0<tspan class="e" dy="-6.2">−42</tspan></text><text x="38.9" y="200.1" text-anchor="end" class="t"><tspan class="h1">1</tspan>0<tspan class="e" dy="-6.2">−44</tspan></text><text x="107.1" y="246.6" class="t"><tspan class="h1">1</tspan>0<tspan class="e" dx="-0.5" dy="-6.7">2</tspan></text><text x="212.0" y="246.6" class="t"><tspan class="h1">1</tspan>0<tspan class="e" dx="-0.5" dy="-6.7">3</tspan></text><text x="316.9" y="246.6" class="t"><tspan class="h1">1</tspan>0<tspan class="e" dx="-0.5" dy="-6.7">4</tspan></text>
<text x="181.8" y="257.3" class="t" text-anchor="middle">f (Hz)</text>
<text transform="translate(11.4,120) rotate(-90)" class="t" style="font-size:10.2px" text-anchor="middle">PSD (strain<tspan style="font-size:7.5px" dy="-5.6">2</tspan><tspan dy="5.6">/Hz)</tspan></text>
<g class="one"><use href="#g1" transform="translate(295.03,22.60) scale(0.004883,-0.004883)"/><use href="#g1" transform="translate(308.94,22.60) scale(0.004883,-0.004883)"/><use href="#g1" transform="translate(302.82,34.30) scale(0.004883,-0.004883)"/><use href="#g1" transform="translate(15.90,12.60) scale(0.004883,-0.004883)"/><use href="#g1" transform="translate(15.90,59.50) scale(0.004883,-0.004883)"/><use href="#g1" transform="translate(15.90,106.40) scale(0.004883,-0.004883)"/><use href="#g1" transform="translate(15.90,153.20) scale(0.004883,-0.004883)"/><use href="#g1" transform="translate(15.90,200.10) scale(0.004883,-0.004883)"/><use href="#g1" transform="translate(107.10,246.60) scale(0.004883,-0.004883)"/><use href="#g1" transform="translate(212.00,246.60) scale(0.004883,-0.004883)"/><use href="#g1" transform="translate(316.90,246.60) scale(0.004883,-0.004883)"/></g></g></svg>
</body></html>
